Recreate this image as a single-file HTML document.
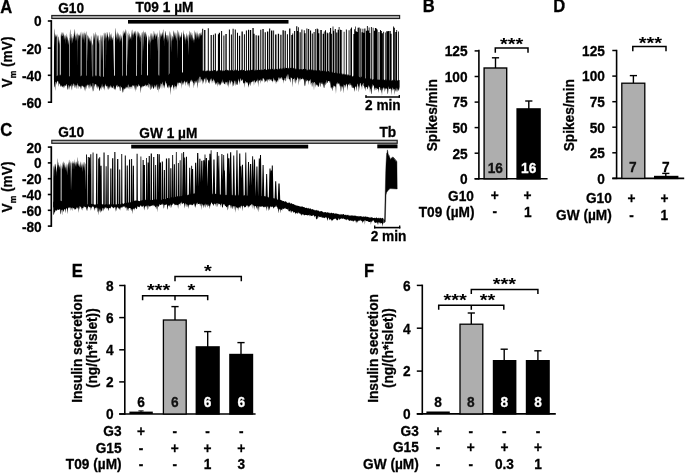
<!DOCTYPE html>
<html><head><meta charset="utf-8"><title>Figure</title>
<style>html,body{margin:0;padding:0;background:#fff;overflow:hidden}svg{display:block;filter:grayscale(1)}text{font-family:"Liberation Sans",sans-serif;font-weight:bold;stroke-width:0.3px;paint-order:stroke}</style>
</head><body>
<svg width="685" height="473" viewBox="0 0 685 473">
<rect width="685" height="473" fill="#fff"/>
<text transform="translate(0.2,12.6) scale(0.917,1)" font-size="18.09" text-anchor="start" fill="#000" stroke="#000">A</text>
<text transform="translate(58.2,12.5) scale(0.917,1)" font-size="14.93" text-anchor="start" fill="#000" stroke="#000">G10</text>
<text transform="translate(135.4,12.2) scale(0.917,1)" font-size="14.93" text-anchor="start" fill="#000" stroke="#000">T09 1 µM</text>
<rect x="51.8" y="15.5" width="347.8" height="3" fill="#b4b4b4" stroke="#222" stroke-width="1.2"/>
<rect x="128" y="20" width="160.5" height="3.6" fill="#000"/>
<line x1="51.3" y1="20.1" x2="51.3" y2="103" stroke="#000" stroke-width="1.7"/>
<line x1="47.8" y1="21" x2="51.3" y2="21" stroke="#000" stroke-width="1.6"/>
<text transform="translate(41.7,26.4) scale(0.917,1)" font-size="14.93" text-anchor="end" fill="#000" stroke="#000">0</text>
<line x1="47.8" y1="48.1" x2="51.3" y2="48.1" stroke="#000" stroke-width="1.6"/>
<text transform="translate(41.7,53.5) scale(0.917,1)" font-size="14.93" text-anchor="end" fill="#000" stroke="#000">-20</text>
<line x1="47.8" y1="75.3" x2="51.3" y2="75.3" stroke="#000" stroke-width="1.6"/>
<text transform="translate(41.7,80.7) scale(0.917,1)" font-size="14.93" text-anchor="end" fill="#000" stroke="#000">-40</text>
<line x1="47.8" y1="102.2" x2="51.3" y2="102.2" stroke="#000" stroke-width="1.6"/>
<text transform="translate(41.7,107.6) scale(0.917,1)" font-size="14.93" text-anchor="end" fill="#000" stroke="#000">-60</text>
<path d="M54 75 L54.4 74.3 L54.8 75.2 L55.2 75.3 L55.6 74.4 L56 76 L56.4 76.1 L56.8 76.2 L57.2 75 L57.6 75.7 L58 76 L58.4 75.8 L58.8 76 L59.2 74.7 L59.6 74.5 L60 76.3 L60.4 74.5 L60.8 74.7 L61.2 75.2 L61.6 75.6 L62 75.9 L62.4 75.5 L62.8 75.7 L63.2 75.8 L63.6 75.8 L64 75.1 L64.4 75.3 L64.8 75.1 L65.2 75.9 L65.6 76.2 L66 76.3 L66.4 74.9 L66.8 75.8 L67.2 75.1 L67.6 76.4 L68 76.5 L68.4 76.2 L68.8 75.3 L69.2 76.4 L69.6 76.4 L70 75.7 L70.4 75.3 L70.8 75 L71.2 76.2 L71.6 76.3 L72 75.5 L72.4 74.8 L72.8 75.7 L73.2 75.4 L73.6 75.8 L74 75.9 L74.4 75.9 L74.8 76.1 L75.2 74.9 L75.6 76.5 L76 76.3 L76.4 75.9 L76.8 76.3 L77.2 76.4 L77.6 76.4 L78 75.8 L78.4 74.9 L78.8 75.3 L79.2 75.6 L79.6 76.7 L80 76.2 L80.4 76.6 L80.8 75.9 L81.2 76 L81.6 75.5 L82 75.3 L82.4 75.2 L82.8 75.8 L83.2 76.5 L83.6 76.4 L84 75.4 L84.4 75.3 L84.8 76.7 L85.2 75.1 L85.6 75.7 L86 75.4 L86.4 76 L86.8 75.2 L87.2 76.5 L87.6 76.5 L88 75.3 L88.4 75.4 L88.8 76.8 L89.2 76.2 L89.6 75.7 L90 75.8 L90.4 75.2 L90.8 76.1 L91.2 75.3 L91.6 75.5 L92 76.6 L92.4 75.5 L92.8 76.9 L93.2 77 L93.6 76.1 L94 76.2 L94.4 76.4 L94.8 76.7 L95.2 75.3 L95.6 75.5 L96 76.6 L96.4 76.1 L96.8 75.3 L97.2 76 L97.6 76.7 L98 76.3 L98.4 76.8 L98.8 76 L99.2 76.2 L99.6 76.1 L100 75.5 L100.4 76.7 L100.8 77.1 L101.2 75.5 L101.6 75.3 L102 75.7 L102.4 77 L102.8 75.8 L103.2 76.6 L103.6 77 L104 76.7 L104.4 76 L104.8 76.7 L105.2 76.9 L105.6 75.8 L106 75.4 L106.4 75.3 L106.8 77 L107.2 76.7 L107.6 75.3 L108 75.5 L108.4 76.4 L108.8 76.3 L109.2 76.2 L109.6 75.8 L110 76.3 L110.4 75.8 L110.8 76.8 L111.2 76.1 L111.6 76.6 L112 75.7 L112.4 76.3 L112.8 75.9 L113.2 75.7 L113.6 76.4 L114 75.7 L114.4 75.8 L114.8 75.5 L115.2 76.1 L115.6 76.5 L116 75.7 L116.4 76.6 L116.8 76.2 L117.2 76.5 L117.6 76.1 L118 75.9 L118.4 76.2 L118.8 76.9 L119.2 75.9 L119.6 76 L120 76.8 L120.4 76.3 L120.8 75.9 L121.2 75.3 L121.6 75.5 L122 75.2 L122.4 75.4 L122.8 76.5 L123.2 75.4 L123.6 76.6 L124 76.1 L124.4 76.6 L124.8 75.6 L125.2 75.2 L125.6 75 L126 75.5 L126.4 75.5 L126.8 75.7 L127.2 76.4 L127.6 76.7 L128 74.9 L128.4 76.5 L128.8 75.8 L129.2 75.4 L129.6 75.5 L130 75.4 L130.4 76.2 L130.8 75.7 L131.2 75.8 L131.6 76.3 L132 76.7 L132.4 76.1 L132.8 75.5 L133.2 75.2 L133.6 74.9 L134 76.1 L134.4 75.6 L134.8 75.3 L135.2 74.9 L135.6 75.5 L136 76 L136.4 76.1 L136.8 75.5 L137.2 76.4 L137.6 75.9 L138 75.1 L138.4 75.2 L138.8 76.4 L139.2 75.3 L139.6 74.8 L140 76.3 L140.4 75.4 L140.8 75.4 L141.2 75.1 L141.6 74.8 L142 75 L142.4 76 L142.8 74.7 L143.2 75.7 L143.6 76.5 L144 74.9 L144.4 75.6 L144.8 76.2 L145.2 74.7 L145.6 76.3 L146 75.1 L146.4 75.2 L146.8 75.3 L147.2 75.9 L147.6 74.7 L148 75.5 L148.4 75.3 L148.8 74.7 L149.2 74.8 L149.6 74.9 L150 75.8 L150.4 75.1 L150.8 76.1 L151.2 75.3 L151.6 74.8 L152 76.3 L152.4 75.9 L152.8 75.8 L153.2 75.6 L153.6 74.7 L154 75.6 L154.4 75.7 L154.8 75.9 L155.2 75.7 L155.6 75.2 L156 75.4 L156.4 75.5 L156.8 75.6 L157.2 75.9 L157.6 75.5 L158 74.6 L158.4 76.1 L158.8 74.4 L159.2 74.9 L159.6 76.2 L160 75.8 L160.4 76.1 L160.8 75 L161.2 74.2 L161.6 75 L162 75 L162.4 75.2 L162.8 74.5 L163.2 74.8 L163.6 74.4 L164 75.1 L164.4 74.6 L164.8 75.1 L165.2 74 L165.6 74.8 L166 73.9 L166.4 74.2 L166.8 74.1 L167.2 73.7 L167.6 74.1 L168 74.2 L168.4 74.9 L168.8 75.2 L169.2 73.4 L169.6 73.6 L170 73.9 L170.4 73.6 L170.8 73.7 L171.2 73.8 L171.6 74.5 L172 73.9 L172.4 73.6 L172.8 73.8 L173.2 73 L173.6 72.9 L174 72.8 L174.4 74.1 L174.8 72.8 L175.2 73.1 L175.6 74.3 L176 73.7 L176.4 72.9 L176.8 73.4 L177.2 72.8 L177.6 73.1 L178 73.8 L178.4 73.4 L178.8 72.9 L179.2 73.4 L179.6 73.1 L180 73.6 L180.4 73.4 L180.8 73.1 L181.2 72.5 L181.6 71.9 L182 73 L182.4 72.8 L182.8 71.7 L183.2 72.8 L183.6 72.1 L184 73.3 L184.4 71.7 L184.8 72.9 L185.2 71.8 L185.6 73.1 L186 72.1 L186.4 72.8 L186.8 72.8 L187.2 71.7 L187.6 72.1 L188 72.8 L188.4 71.9 L188.8 72.5 L189.2 72.3 L189.6 72.2 L190 71.3 L190.4 71.3 L190.8 72.1 L191.2 71.9 L191.6 72.3 L192 71.9 L192.4 71.6 L192.8 70.9 L193.2 70.6 L193.6 72.2 L194 71.2 L194.4 70.9 L194.8 71.8 L195.2 71 L195.6 70.7 L196 70.6 L196.4 71.7 L196.8 71.2 L197.2 70.8 L197.6 70.5 L198 70.7 L198.4 71.5 L198.8 71.3 L199.2 70.4 L199.6 70.3 L200 70 L200.4 70 L200.8 70 L201.2 71.6 L201.6 71.4 L202 70.4 L202.4 71.1 L202.8 70.5 L203.2 71.2 L203.6 70.3 L204 70.5 L204.4 71.1 L204.8 70.6 L205.2 71.1 L205.6 71.6 L206 70.8 L206.4 70.3 L206.8 71.6 L207.2 70.2 L207.6 70.5 L208 71.1 L208.4 70.1 L208.8 70.9 L209.2 71.6 L209.6 70 L210 71.2 L210.4 70.9 L210.8 71.1 L211.2 69.8 L211.6 71.3 L212 69.9 L212.4 71.3 L212.8 70.7 L213.2 70.1 L213.6 71.4 L214 70.5 L214.4 69.9 L214.8 70 L215.2 70.1 L215.6 69.9 L216 71.2 L216.4 71.4 L216.8 70.3 L217.2 71.3 L217.6 70.6 L218 69.8 L218.4 70.3 L218.8 70.2 L219.2 69.9 L219.6 70.2 L220 70.7 L220.4 70.4 L220.8 69.7 L221.2 70.7 L221.6 70.8 L222 70.8 L222.4 70 L222.8 71.4 L223.2 70.2 L223.6 70.7 L224 70.9 L224.4 71 L224.8 70.3 L225.2 70.1 L225.6 70.1 L226 69.8 L226.4 69.6 L226.8 70.7 L227.2 69.6 L227.6 70.2 L228 70.2 L228.4 70.1 L228.8 70.8 L229.2 71.4 L229.6 71.2 L230 70.2 L230.4 70.5 L230.8 70 L231.2 70.8 L231.6 70.6 L232 69.5 L232.4 70.2 L232.8 70.1 L233.2 70.9 L233.6 71.1 L234 71.2 L234.4 70 L234.8 69.7 L235.2 69.5 L235.6 69.7 L236 71.3 L236.4 69.5 L236.8 70 L237.2 69.6 L237.6 70.7 L238 70.9 L238.4 70.3 L238.8 71 L239.2 71.1 L239.6 70.8 L240 70.5 L240.4 69.9 L240.8 70.2 L241.2 69.8 L241.6 69.5 L242 70.5 L242.4 70.2 L242.8 70.8 L243.2 69.9 L243.6 70.1 L244 69.8 L244.4 70.9 L244.8 70.9 L245.2 71.1 L245.6 70.4 L246 71.2 L246.4 70 L246.8 70.9 L247.2 70.5 L247.6 70 L248 70.8 L248.4 70.3 L248.8 70.1 L249.2 70.9 L249.6 69.8 L250 70.2 L250.4 69.5 L250.8 70.6 L251.2 69.8 L251.6 70.2 L252 69.6 L252.4 69.9 L252.8 69.6 L253.2 71 L253.6 70.8 L254 69.4 L254.4 70.8 L254.8 70.6 L255.2 70.7 L255.6 69.3 L256 69.9 L256.4 70.4 L256.8 70.1 L257.2 69.8 L257.6 70 L258 70.2 L258.4 70.6 L258.8 69.4 L259.2 69.9 L259.6 70.1 L260 69.2 L260.4 70.3 L260.8 70.1 L261.2 69.3 L261.6 70.6 L262 69 L262.4 70 L262.8 69.9 L263.2 70.1 L263.6 70.1 L264 69.7 L264.4 68.9 L264.8 69.1 L265.2 69.2 L265.6 69.3 L266 69.4 L266.4 69.9 L266.8 69.7 L267.2 68.9 L267.6 68.9 L268 70.1 L268.4 68.5 L268.8 69.4 L269.2 69.6 L269.6 68.4 L270 68.5 L270.4 69.7 L270.8 68.9 L271.2 68.7 L271.6 70 L272 69.5 L272.4 68.4 L272.8 69 L273.2 69.7 L273.6 69.8 L274 69.4 L274.4 69.8 L274.8 68.6 L275.2 69.3 L275.6 68.8 L276 69.1 L276.4 68.9 L276.8 68.9 L277.2 68.4 L277.6 69.8 L278 69.2 L278.4 68.3 L278.8 67.9 L279.2 68.3 L279.6 69.2 L280 69 L280.4 68 L280.8 68.5 L281.2 69.4 L281.6 68.5 L282 68.3 L282.4 67.7 L282.8 69.4 L283.2 68.3 L283.6 68.1 L284 67.6 L284.4 67.6 L284.8 69.3 L285.2 67.8 L285.6 67.9 L286 67.7 L286.4 68 L286.8 68 L287.2 68.4 L287.6 67.9 L288 68.9 L288.4 68.1 L288.8 67.8 L289.2 67.4 L289.6 69.2 L290 68.3 L290.4 67.8 L290.8 68.1 L291.2 67.5 L291.6 68.1 L292 68.3 L292.4 68 L292.8 69 L293.2 68.4 L293.6 67.8 L294 67.9 L294.4 68.5 L294.8 68.8 L295.2 69.6 L295.6 68 L296 69 L296.4 69.4 L296.8 68.4 L297.2 69.2 L297.6 68 L298 69.2 L298.4 68.8 L298.8 68.6 L299.2 68.9 L299.6 69.7 L300 69.1 L300.4 69.3 L300.8 69.1 L301.2 69.1 L301.6 69.4 L302 69 L302.4 69.9 L302.8 69.1 L303.2 69.1 L303.6 69 L304 68.8 L304.4 68.6 L304.8 69.4 L305.2 68.9 L305.6 68.8 L306 69.4 L306.4 69.1 L306.8 70.6 L307.2 70.3 L307.6 70.3 L308 69 L308.4 69.5 L308.8 70.8 L309.2 69 L309.6 69.7 L310 69.7 L310.4 69.4 L310.8 69.4 L311.2 69.2 L311.6 70.5 L312 69.3 L312.4 70 L312.8 69.5 L313.2 70.1 L313.6 70.8 L314 69.5 L314.4 70 L314.8 70.7 L315.2 70.2 L315.6 70.1 L316 70.7 L316.4 70.8 L316.8 70.1 L317.2 70.3 L317.6 71.2 L318 70.4 L318.4 70.2 L318.8 70.5 L319.2 70.2 L319.6 69.9 L320 70.8 L320.4 71.7 L320.8 70.6 L321.2 70.5 L321.6 70.8 L322 71.4 L322.4 70.2 L322.8 70.9 L323.2 71.1 L323.6 71.9 L324 70.4 L324.4 70.7 L324.8 71.3 L325.2 72.2 L325.6 70.8 L326 71.7 L326.4 72 L326.8 70.6 L327.2 71.9 L327.6 70.9 L328 71 L328.4 71.3 L328.8 70.8 L329.2 71.7 L329.6 72 L330 72.7 L330.4 71.5 L330.8 71.8 L331.2 72.3 L331.6 72.2 L332 71.8 L332.4 71.8 L332.8 72.9 L333.2 72.2 L333.6 72.1 L334 73 L334.4 73 L334.8 72.8 L335.2 72.4 L335.6 72.2 L336 73.7 L336.4 72.6 L336.8 72.8 L337.2 73.1 L337.6 73.5 L338 73.8 L338.4 72.7 L338.8 72.5 L339.2 73.2 L339.6 73.9 L340 73.1 L340.4 73.5 L340.8 73.4 L341.2 72.9 L341.6 73.4 L342 74.5 L342.4 73.3 L342.8 74.7 L343.2 74.6 L343.6 73.5 L344 73.7 L344.4 75 L344.8 73.8 L345.2 73.9 L345.6 75.1 L346 73.9 L346.4 74.7 L346.8 75.3 L347.2 73.8 L347.6 75.3 L348 75.5 L348.4 75.1 L348.8 74.1 L349.2 75.6 L349.6 75.2 L350 76.1 L350.4 75.3 L350.8 75.1 L351.2 75.5 L351.6 74.7 L352 76.2 L352.4 76.5 L352.8 76.3 L353.2 76.4 L353.6 75.3 L354 76 L354.4 75.7 L354.8 77 L355.2 76.2 L355.6 76.5 L356 76.9 L356.4 76.4 L356.8 75.8 L357.2 76 L357.6 75.8 L358 76.2 L358.4 76.3 L358.8 76.3 L359.2 76.9 L359.6 77.1 L360 77.6 L360.4 77.9 L360.8 76.6 L361.2 76.8 L361.6 76.4 L362 77.3 L362.4 77.2 L362.8 76.7 L363.2 77.4 L363.6 77.5 L364 77.3 L364.4 78.7 L364.8 77.9 L365.2 78.6 L365.6 78.5 L366 77.9 L366.4 78.1 L366.8 78.9 L367.2 78.9 L367.6 78.9 L368 79 L368.4 79.1 L368.8 79.3 L369.2 78.4 L369.6 78.6 L370 78.4 L370.4 79.5 L370.8 78.1 L371.2 78.4 L371.6 79.5 L372 78.7 L372.4 79.6 L372.8 79.9 L373.2 79.2 L373.6 78.8 L374 79.4 L374.4 78.2 L374.8 79.2 L375.2 79.4 L375.6 78.3 L376 78.7 L376.4 79.8 L376.8 78.8 L377.2 80.2 L377.6 79.3 L378 79.2 L378.4 80.3 L378.8 79.3 L379.2 79.8 L379.6 80.1 L380 79.1 L380.4 79 L380.8 78.8 L381.2 79.2 L381.6 79.1 L382 80.5 L382.4 79.4 L382.8 79.7 L383.2 79 L383.6 79.2 L384 80.6 L384.4 79.4 L384.8 80.1 L385.2 80.6 L385.6 79.2 L386 78.9 L386.4 79.8 L386.8 80.8 L387.2 79.5 L387.6 80.6 L388 79.2 L388.4 80.8 L388.8 79.4 L389.2 80.6 L389.6 79.2 L390 80.9 L390.4 80.8 L390.8 79.9 L391.2 79.9 L391.6 81.1 L392 80.9 L392.4 79.4 L392.8 80.4 L393.2 79.4 L393.6 81.2 L394 79.5 L394.4 79.8 L394.8 80.1 L395.2 79.6 L395.6 80.9 L396 81 L396.4 81.3 L396.8 79.6 L397.2 80.9 L397.6 80.1 L398 80.3 L398.4 80.3 L398.8 80.3 L399.2 79.9 L399.6 80.3 L399.6 87 L399.2 88.9 L398.8 90.8 L398.4 90.4 L398 88.5 L397.6 92.6 L397.2 88.1 L396.8 92.3 L396.4 89.1 L396 87.5 L395.6 91.8 L395.2 89.8 L394.8 94.9 L394.4 89.2 L394 88.7 L393.6 88.8 L393.2 90.2 L392.8 90.4 L392.4 87.2 L392 88.8 L391.6 90.2 L391.2 95.3 L390.8 88.3 L390.4 88.7 L390 89 L389.6 89 L389.2 89 L388.8 86.2 L388.4 89.2 L388 93.6 L387.6 94.1 L387.2 89.2 L386.8 89 L386.4 88.3 L386 88.2 L385.6 88.4 L385.2 89.7 L384.8 92.1 L384.4 87.4 L384 89.2 L383.6 87.4 L383.2 87.4 L382.8 90.7 L382.4 87.4 L382 96.3 L381.6 87.6 L381.2 93.5 L380.8 89.7 L380.4 90.2 L380 87.1 L379.6 87 L379.2 87.5 L378.8 93 L378.4 90 L378 89.1 L377.6 88.5 L377.2 89 L376.8 90.2 L376.4 87.9 L376 87.8 L375.6 87.7 L375.2 90.5 L374.8 88.1 L374.4 91.2 L374 86.4 L373.6 84.7 L373.2 86.2 L372.8 83.8 L372.4 88.3 L372 85.5 L371.6 93.4 L371.2 94.2 L370.8 88.9 L370.4 88.5 L370 93.3 L369.6 86.1 L369.2 87.8 L368.8 86.4 L368.4 84.9 L368 88.7 L367.6 89.5 L367.2 87.6 L366.8 87.2 L366.4 86.9 L366 87 L365.6 91.4 L365.2 86.5 L364.8 89 L364.4 87.4 L364 86.1 L363.6 86.2 L363.2 81.6 L362.8 85.4 L362.4 83.5 L362 89.9 L361.6 85 L361.2 87 L360.8 84.6 L360.4 83.1 L360 83.1 L359.6 86.2 L359.2 88.6 L358.8 92.6 L358.4 85.2 L358 87.4 L357.6 84.2 L357.2 83.5 L356.8 87.2 L356.4 91.5 L356 86.4 L355.6 87.3 L355.2 85.9 L354.8 89.8 L354.4 92 L354 87.6 L353.6 88.5 L353.2 87.2 L352.8 88.3 L352.4 87.4 L352 85.1 L351.6 88 L351.2 84.6 L350.8 85.6 L350.4 84.8 L350 82.7 L349.6 84.2 L349.2 86 L348.8 84.1 L348.4 84.8 L348 84.8 L347.6 91 L347.2 86.6 L346.8 85 L346.4 83.8 L346 84 L345.6 88.1 L345.2 85.5 L344.8 84.7 L344.4 85.4 L344 88.6 L343.6 93.6 L343.2 83.6 L342.8 89 L342.4 85.9 L342 87.2 L341.6 85.5 L341.2 90.5 L340.8 91.9 L340.4 86.8 L340 85.3 L339.6 82.9 L339.2 87 L338.8 83.3 L338.4 83.9 L338 82.9 L337.6 84.8 L337.2 81.9 L336.8 83.5 L336.4 84.5 L336 94.1 L335.6 87.5 L335.2 86.2 L334.8 86.4 L334.4 86.2 L334 85.6 L333.6 85.7 L333.2 88 L332.8 87 L332.4 91.4 L332 89 L331.6 88.3 L331.2 87 L330.8 87.9 L330.4 84.2 L330 81 L329.6 81.3 L329.2 83.3 L328.8 81.1 L328.4 81.1 L328 80.9 L327.6 83.1 L327.2 82.6 L326.8 84.2 L326.4 79.5 L326 84.2 L325.6 85.6 L325.2 82 L324.8 84 L324.4 87.7 L324 88.1 L323.6 83.2 L323.2 88.4 L322.8 83.5 L322.4 84.8 L322 81.7 L321.6 83.8 L321.2 84 L320.8 82.3 L320.4 86.7 L320 86.5 L319.6 83 L319.2 82.3 L318.8 87.2 L318.4 86.2 L318 87.1 L317.6 84.6 L317.2 85.7 L316.8 84.4 L316.4 85.7 L316 83.4 L315.6 87.8 L315.2 83.2 L314.8 82 L314.4 82 L314 90.8 L313.6 83.4 L313.2 82.4 L312.8 81.8 L312.4 85.6 L312 87.2 L311.6 83.1 L311.2 82.4 L310.8 85.1 L310.4 78.6 L310 80.7 L309.6 81 L309.2 79.7 L308.8 85.3 L308.4 80.6 L308 81.4 L307.6 80.2 L307.2 80.1 L306.8 81.2 L306.4 81.4 L306 78.9 L305.6 82.6 L305.2 85.8 L304.8 86.2 L304.4 84.4 L304 79.1 L303.6 78.8 L303.2 80.7 L302.8 77.6 L302.4 79.3 L302 78.7 L301.6 79.6 L301.2 78.9 L300.8 79.8 L300.4 77.5 L300 81.9 L299.6 78 L299.2 79.7 L298.8 85.8 L298.4 78.2 L298 79 L297.6 77 L297.2 78 L296.8 80.6 L296.4 79.2 L296 83.2 L295.6 78.5 L295.2 84 L294.8 81.8 L294.4 77.6 L294 78.9 L293.6 78.9 L293.2 78.7 L292.8 87.5 L292.4 80.5 L292 78 L291.6 77.4 L291.2 78.5 L290.8 77 L290.4 82.7 L290 81.2 L289.6 78.7 L289.2 79.6 L288.8 78.9 L288.4 75.9 L288 73.8 L287.6 75.5 L287.2 79.4 L286.8 77.1 L286.4 75.2 L286 81.3 L285.6 80.9 L285.2 78.1 L284.8 77.9 L284.4 79.9 L284 80.5 L283.6 79.8 L283.2 83.7 L282.8 77.4 L282.4 80.3 L282 79.4 L281.6 77.7 L281.2 76.8 L280.8 79.5 L280.4 78.1 L280 77.6 L279.6 80 L279.2 77.5 L278.8 77.3 L278.4 78.7 L278 82.5 L277.6 80.7 L277.2 80 L276.8 82.1 L276.4 81.6 L276 84.2 L275.6 80.7 L275.2 80.6 L274.8 79.2 L274.4 80.5 L274 82 L273.6 77.5 L273.2 79.3 L272.8 82.8 L272.4 80.9 L272 80.9 L271.6 78.7 L271.2 81.3 L270.8 80.2 L270.4 79.4 L270 79.1 L269.6 78.8 L269.2 81.6 L268.8 78.8 L268.4 80.8 L268 79.1 L267.6 79.7 L267.2 83.1 L266.8 78.9 L266.4 81.4 L266 80.5 L265.6 81.2 L265.2 81.7 L264.8 82.7 L264.4 79.6 L264 79.4 L263.6 78.7 L263.2 78 L262.8 78.2 L262.4 81.8 L262 80.3 L261.6 81.6 L261.2 79.2 L260.8 84 L260.4 79.3 L260 79.9 L259.6 80.3 L259.2 80.9 L258.8 80.5 L258.4 87.4 L258 78.1 L257.6 83.7 L257.2 79.4 L256.8 80.7 L256.4 81.3 L256 81.7 L255.6 81.9 L255.2 83.6 L254.8 80.8 L254.4 79.8 L254 86 L253.6 80.3 L253.2 81.8 L252.8 82.1 L252.4 80.6 L252 82.4 L251.6 81.8 L251.2 82.2 L250.8 86.4 L250.4 83.4 L250 81.8 L249.6 83.5 L249.2 84.4 L248.8 85.5 L248.4 87.7 L248 84.3 L247.6 82.8 L247.2 82.2 L246.8 82.7 L246.4 81.7 L246 83.7 L245.6 80.8 L245.2 81.7 L244.8 88.1 L244.4 82.4 L244 83.6 L243.6 82.4 L243.2 83.9 L242.8 80.5 L242.4 79.6 L242 79.5 L241.6 80.7 L241.2 81.2 L240.8 78.4 L240.4 78.5 L240 83 L239.6 80.4 L239.2 85.1 L238.8 78.5 L238.4 80.3 L238 81.8 L237.6 84.2 L237.2 84.9 L236.8 84.4 L236.4 84.6 L236 80.3 L235.6 82.5 L235.2 86.2 L234.8 80.6 L234.4 81.1 L234 85.8 L233.6 85.7 L233.2 82.4 L232.8 87.2 L232.4 81.9 L232 81.5 L231.6 80.2 L231.2 82.3 L230.8 82.6 L230.4 85.1 L230 79.7 L229.6 80.7 L229.2 83 L228.8 88 L228.4 81.6 L228 85.9 L227.6 84.7 L227.2 81.2 L226.8 82.7 L226.4 81.8 L226 85.2 L225.6 82.8 L225.2 81.4 L224.8 83.9 L224.4 84.2 L224 83.8 L223.6 81.2 L223.2 83.7 L222.8 78.9 L222.4 83.4 L222 81.9 L221.6 84.2 L221.2 80.9 L220.8 84.2 L220.4 85.5 L220 84 L219.6 86 L219.2 83.1 L218.8 84.9 L218.4 83.4 L218 81.4 L217.6 82.4 L217.2 87 L216.8 82.4 L216.4 83.3 L216 85.1 L215.6 84.2 L215.2 83.1 L214.8 79.9 L214.4 81.7 L214 83.4 L213.6 78.6 L213.2 80.1 L212.8 80.7 L212.4 80.9 L212 83.8 L211.6 80 L211.2 78.1 L210.8 81.8 L210.4 78.5 L210 80 L209.6 81.9 L209.2 83.9 L208.8 82.2 L208.4 83 L208 80.3 L207.6 80.3 L207.2 78.8 L206.8 83.2 L206.4 78.9 L206 77.3 L205.6 79.6 L205.2 84.6 L204.8 78.3 L204.4 79.7 L204 78.2 L203.6 83.8 L203.2 80.7 L202.8 84.8 L202.4 79.2 L202 81.8 L201.6 79.3 L201.2 79.1 L200.8 82.9 L200.4 77.6 L200 76 L199.6 76.8 L199.2 82.7 L198.8 82.7 L198.4 77.6 L198 84.7 L197.6 88.7 L197.2 79.3 L196.8 81.5 L196.4 83.2 L196 79.9 L195.6 83.8 L195.2 81.5 L194.8 80.7 L194.4 86.1 L194 82.9 L193.6 82.5 L193.2 88.8 L192.8 80.3 L192.4 81.4 L192 82.2 L191.6 80.7 L191.2 79.6 L190.8 80.6 L190.4 81.6 L190 82.5 L189.6 88.6 L189.2 82.7 L188.8 82.9 L188.4 84.5 L188 87.1 L187.6 80.2 L187.2 85.2 L186.8 81.8 L186.4 81.4 L186 83 L185.6 81.5 L185.2 86.2 L184.8 81.9 L184.4 80.4 L184 81.9 L183.6 85.1 L183.2 82.1 L182.8 83.2 L182.4 85.4 L182 80.9 L181.6 89 L181.2 80.2 L180.8 83.8 L180.4 83.2 L180 82.5 L179.6 82.4 L179.2 83.3 L178.8 82.6 L178.4 83.2 L178 86.5 L177.6 82.1 L177.2 83.7 L176.8 86.3 L176.4 87.1 L176 90.1 L175.6 85.8 L175.2 86.6 L174.8 87.3 L174.4 84.2 L174 91.5 L173.6 86.3 L173.2 89.2 L172.8 84.4 L172.4 85.4 L172 84.9 L171.6 88 L171.2 86.6 L170.8 87.5 L170.4 95.2 L170 87.3 L169.6 84.7 L169.2 88.5 L168.8 84.5 L168.4 89.1 L168 86.1 L167.6 88.3 L167.2 87.1 L166.8 85 L166.4 82.9 L166 83.8 L165.6 80.5 L165.2 82.9 L164.8 89 L164.4 84.6 L164 88.5 L163.6 85.4 L163.2 85.3 L162.8 81.5 L162.4 84.2 L162 89.2 L161.6 84.3 L161.2 83.7 L160.8 83.2 L160.4 88.6 L160 85.1 L159.6 89.5 L159.2 88.9 L158.8 86 L158.4 93 L158 83.2 L157.6 90.2 L157.2 89.7 L156.8 84.2 L156.4 85.2 L156 89.3 L155.6 85.3 L155.2 87.4 L154.8 84.5 L154.4 86.9 L154 88.1 L153.6 88.9 L153.2 88.6 L152.8 86.1 L152.4 88.1 L152 83.9 L151.6 89.1 L151.2 88.6 L150.8 84.3 L150.4 89.9 L150 89.6 L149.6 84.8 L149.2 84.1 L148.8 82.9 L148.4 87.6 L148 87.6 L147.6 84.7 L147.2 84.9 L146.8 85.9 L146.4 85 L146 87.6 L145.6 84.3 L145.2 85.3 L144.8 86.2 L144.4 85.3 L144 86.4 L143.6 86.3 L143.2 86.4 L142.8 85.6 L142.4 87.7 L142 85.9 L141.6 87.6 L141.2 87.4 L140.8 93.6 L140.4 88.2 L140 86.2 L139.6 86.1 L139.2 85.2 L138.8 86.7 L138.4 83.8 L138 85.6 L137.6 87.4 L137.2 86.3 L136.8 85.1 L136.4 87.7 L136 90.5 L135.6 84.7 L135.2 92.3 L134.8 84.8 L134.4 90 L134 84.7 L133.6 86.5 L133.2 85.4 L132.8 85.7 L132.4 84.9 L132 89.3 L131.6 86.5 L131.2 86.7 L130.8 86.8 L130.4 86.8 L130 89.7 L129.6 86.7 L129.2 86.4 L128.8 89.3 L128.4 84.9 L128 84.2 L127.6 88.7 L127.2 86.9 L126.8 87.1 L126.4 88.8 L126 86.3 L125.6 88.5 L125.2 88.6 L124.8 89.1 L124.4 88.3 L124 90.7 L123.6 87.8 L123.2 92.1 L122.8 92.7 L122.4 91 L122 88.2 L121.6 86.9 L121.2 87.4 L120.8 85.4 L120.4 90.7 L120 91.3 L119.6 87.7 L119.2 86.4 L118.8 86.3 L118.4 86.4 L118 86.8 L117.6 87.7 L117.2 84.7 L116.8 85 L116.4 86.6 L116 86.3 L115.6 90.4 L115.2 88.4 L114.8 88.8 L114.4 89.9 L114 86.6 L113.6 85.4 L113.2 88.9 L112.8 87.5 L112.4 87.6 L112 88.4 L111.6 87.2 L111.2 86.4 L110.8 85.1 L110.4 87.9 L110 85.8 L109.6 89.2 L109.2 86.3 L108.8 90.4 L108.4 86.1 L108 89.8 L107.6 87.8 L107.2 85.5 L106.8 86.7 L106.4 86.2 L106 85.4 L105.6 85.7 L105.2 83.5 L104.8 86.3 L104.4 90.7 L104 87 L103.6 85.9 L103.2 89 L102.8 87.5 L102.4 86.5 L102 83.3 L101.6 90.4 L101.2 85.4 L100.8 89 L100.4 87 L100 89.9 L99.6 91.3 L99.2 89.5 L98.8 87.8 L98.4 86.6 L98 86.3 L97.6 89.6 L97.2 85.1 L96.8 87.9 L96.4 85.5 L96 84 L95.6 84.3 L95.2 84.2 L94.8 87.1 L94.4 83.6 L94 90.3 L93.6 91.4 L93.2 83.2 L92.8 82.9 L92.4 92 L92 87.9 L91.6 85.5 L91.2 87.1 L90.8 83.3 L90.4 88.5 L90 85 L89.6 89.4 L89.2 83.8 L88.8 89.1 L88.4 84.4 L88 85.2 L87.6 84.2 L87.2 86.1 L86.8 85.3 L86.4 89.4 L86 84.7 L85.6 91.7 L85.2 86.5 L84.8 87.1 L84.4 91.1 L84 86.3 L83.6 86.5 L83.2 87.8 L82.8 86.1 L82.4 85.5 L82 86.8 L81.6 85.2 L81.2 89.5 L80.8 85.7 L80.4 89.7 L80 85.9 L79.6 86.9 L79.2 86.3 L78.8 85.2 L78.4 86.3 L78 89.7 L77.6 82.7 L77.2 84.9 L76.8 85.3 L76.4 89.4 L76 84.3 L75.6 88.3 L75.2 84.5 L74.8 88.5 L74.4 85.6 L74 83.8 L73.6 83.6 L73.2 86.1 L72.8 86.5 L72.4 84.3 L72 90.6 L71.6 88.5 L71.2 83.7 L70.8 85.8 L70.4 86.8 L70 85.4 L69.6 89.9 L69.2 85.5 L68.8 90.1 L68.4 84.9 L68 85.6 L67.6 90 L67.2 88.9 L66.8 83.9 L66.4 84.3 L66 86.4 L65.6 85.3 L65.2 85.7 L64.8 85 L64.4 88.1 L64 85.6 L63.6 88.6 L63.2 85.8 L62.8 86.8 L62.4 87.6 L62 85.5 L61.6 85.5 L61.2 86.7 L60.8 86.8 L60.4 86.1 L60 84.3 L59.6 83.4 L59.2 83.6 L58.8 86.9 L58.4 83.1 L58 80.8 L57.6 80.9 L57.2 81.7 L56.8 82.6 L56.4 85.1 L56 82 L55.6 81.7 L55.2 90.9 L54.8 86.7 L54.4 86.8 L54 83.1Z" fill="#000"/>
<path d="M53.9 80.3L54 36.8L54.2 28.3L54.5 30.7L54.6 46.7L54.9 32.2L55.1 35L55.5 37.7L55.8 33.5L56 35.6L56.4 37.5L56.6 34L56.9 36.2L56.8 39.2L56.8 80.4ZM57.5 80.4L57.6 42.1L57.8 33.7L58.1 36.4L58.5 43.2L58.7 36.6L59 37.5L59.1 45.8L59.4 39.1L59.6 40.9L59.8 43.9L59.8 80.5ZM60.7 80.6L60.8 36.8L61.1 31.7L61.3 33L61.6 37.1L61.9 33.7L62.1 36.1L62.4 36.1L62.7 32.1L62.9 32.7L63.5 35.7L63.5 80.7ZM63.4 80.7L63.5 40.6L63.8 31.8L64 33.4L64.4 39.9L64.7 35.1L64.9 36.7L65.1 44L65.3 34.7L65.6 35.7L65.9 39.1L66.2 35.5L66.4 37.1L66.5 40.4L66.8 33.4L67 34L67.3 40.1L67.5 36.4L67.8 38.8L68 44.4L68.3 40L68.5 40.6L68.7 45.7L69 37.7L69.2 38.3L69.2 41.3L69.2 80.9ZM69.7 80.9L69.8 35.4L70.1 29L70.3 30.5L70.8 41.2L71 33.7L71.3 34.4L71.4 44.7L71.6 36.2L71.9 38.3L72.3 43.6L72.5 37.4L72.8 39.6L72.7 42.6L72.7 81.1ZM72.6 81.1L72.7 38.8L72.9 35.5L73.2 36.4L73.6 39.8L73.9 32.9L74.1 35.3L74.5 32L74.8 29L75 29.8L75.4 41.4L75.7 35.1L75.9 36.1L76.2 41L76.5 33.3L76.7 35.1L76.8 38.1L77 32.2L77.3 34.2L77.4 66.8L77.6 33.6L77.9 36.1L78 42.1L78.2 34.3L78.5 35.4L78.4 38.4L78.4 81.3ZM78.3 81.3L78.4 39.6L78.6 33.9L78.9 36.4L79 39L79.2 34.2L79.5 35.7L79.8 35.7L80.1 31.7L80.3 33.4L80.7 36.4L80.7 81.4ZM81.5 81.5L81.6 38.8L81.9 31.5L82.1 32.2L82.3 40.3L82.5 32.7L82.8 34.7L83.1 40.2L83.3 31.7L83.6 34.5L83.8 39.4L84 32.8L84.3 33.6L84.6 43.4L84.9 30.7L85.1 33.3L85.2 39.3L85.5 32.9L85.7 34.9L85.8 35L86.1 30.9L86.3 32.2L86.4 35.2L86.4 81.6ZM86.8 81.7L86.9 38.1L87.1 34.2L87.4 35.9L87.7 62.4L87.9 35.5L88.2 37.7L88.5 40L88.8 35.2L89 36.7L89.3 42L89.5 37.2L89.8 38.5L90.1 43.8L90.3 38.4L90.6 41L90.8 41.5L91 35.3L91.3 37.3L91.5 72.8L91.7 39.7L92 42.7L92.6 45.7L92.6 81.9ZM93.1 82L93.2 40.2L93.5 32.6L93.7 33.7L93.9 41L94.2 33.3L94.4 35.1L94.8 40.5L95.1 31.4L95.3 32.7L95.5 35.7L95.5 82ZM96.4 82.1L96.5 42.1L96.7 33.4L97 35.7L97.3 41.4L97.5 35.1L97.8 36L98.2 43.1L98.4 34.8L98.7 36.3L99 45.1L99.2 39.7L99.5 40.3L99.5 43.3L99.5 82.2ZM100.4 82.2L100.5 40.6L100.8 34.3L101 36.6L101.2 41.8L101.4 34.6L101.7 37.4L101.9 61.4L102.1 35L102.4 37.8L102.5 61.6L102.8 34.6L103 35.7L103 38.7L103 82.2ZM103.6 82.2L103.7 40.9L103.9 32.5L104.2 34.6L104.5 41.2L104.8 32.3L105 33L105.4 39.2L105.6 32.6L105.9 33.6L105.9 71.9L106.2 34.2L106.4 36.8L106.7 38.5L106.9 31.7L107.2 32.3L107.5 36.4L107.8 32.6L108 35.3L108.4 41.7L108.6 36.4L108.9 37L109.2 40L109.2 82.1ZM109.1 82.1L109.2 39L109.4 31.7L109.7 32.7L109.7 37.9L110 33.3L110.2 34.8L110.5 40.9L110.8 34.1L111 35.9L111.1 41.1L111.3 32.6L111.6 35L111.7 39.8L111.9 36.2L112.2 39.1L112.5 40.6L112.7 36.9L113 38.6L113.4 71.8L113.7 35.3L113.9 36.5L114.1 39.5L114.1 82ZM114.9 81.9L115 32.2L115.3 28.1L115.5 28.7L115.7 38.7L116 32L116.2 35L116.3 42.3L116.6 33.6L116.8 36.6L117.2 39.6L117.2 81.9ZM117.1 81.9L117.2 35L117.5 31.2L117.7 33.1L118 41.1L118.3 33.1L118.5 33.7L118.6 39.6L118.9 33.2L119.1 35.2L119.3 43.1L119.6 34.5L119.8 35.9L120.3 41.3L120.5 33.3L120.8 36.2L121 42.3L121.3 35L121.5 35.9L122 38.9L122 81.8ZM122.5 81.8L122.6 48.7L122.9 31L123.1 32.9L123.6 36.3L123.8 30.1L124.1 32.1L124.3 33.9L124.6 30.8L124.8 33.3L124.9 33.4L125.2 28.7L125.4 30L125.8 36.5L126 29.5L126.3 32.4L126.3 35.4L126.3 81.7ZM126.9 81.7L127 68.2L127.2 32.5L127.5 34.5L127.9 65.5L128.2 30.6L128.4 33.3L128.5 41L128.8 34.4L129 35.6L129.1 37.4L129.3 33.1L129.6 34.3L129.9 40.6L130.2 35.9L130.4 36.4L131 39.4L131 81.6ZM130.9 81.6L131 38.1L131.3 29.6L131.5 32.2L132 41.1L132.2 32.6L132.5 35.6L132.5 35.5L132.8 29.4L133 30.1L133.3 38.2L133.6 32.1L133.8 34.4L133.9 34.9L134.2 31.3L134.4 32.6L134.6 34.4L134.9 30.7L135.1 31.4L135.5 36.6L135.8 30.3L136 31.6L136.3 34.6L136.3 81.5ZM137 81.5L137.1 37.5L137.3 30.6L137.6 32.5L137.9 38.1L138.1 31L138.4 33.9L138.6 36.8L138.8 31.9L139.1 33.2L139.2 38L139.5 32.8L139.7 34.1L140.1 42.5L140.4 34.5L140.6 35.2L141.1 38.2L141.1 81.4ZM141.5 81.4L141.6 36.6L141.9 32.2L142.1 33.7L142.3 64.8L142.5 31.7L142.8 32.4L142.9 35.6L143.1 30L143.4 31.9L143.8 51L144 31.3L144.3 33.7L144.6 37.5L144.8 31.9L145.1 33.4L145.2 34.6L145.4 31.5L145.7 32.3L145.9 41.2L146.1 32.9L146.4 35L147 38L147 81.3ZM147.9 81.2L148 41.9L148.2 34.6L148.5 36.9L148.9 44.6L149.1 36L149.4 37.4L149.4 46.2L149.7 39.1L149.9 40.1L150.3 43.1L150.3 81.2ZM150.2 81.2L150.3 62.1L150.5 32.4L150.8 34.8L151 36.6L151.3 32.7L151.5 33.9L151.8 41.7L152.1 32.9L152.3 35.4L152.8 40.4L153 35.3L153.3 37.7L153.6 40.7L153.6 81.1ZM153.5 81.1L153.6 37.8L153.8 30.9L154.1 31.5L154.5 36.2L154.8 32.9L155 35.3L155.1 39.8L155.4 33.3L155.6 34L155.7 39.2L156 32.4L156.2 34.9L156.3 36.7L156.5 33.7L156.8 36.2L156.9 37.1L157.2 32L157.4 33.9L157.8 51.4L158 36.4L158.3 37.2L158.5 40.2L158.5 81ZM159.2 81L159.3 65.7L159.6 29.2L159.8 31.3L160.2 40L160.5 32.1L160.7 33.7L161.1 36.7L161.3 32.9L161.6 34.5L162 37L162.2 31.8L162.5 32.9L162.8 35.4L163 29L163.3 30.2L163.7 41.6L164 33.9L164.2 36.8L164.7 39.8L164.7 80.5ZM164.6 80.4L164.7 48.3L165 30.5L165.2 31.2L165.5 35.7L165.7 31L166 33.4L166.1 39.3L166.3 34.7L166.6 35.2L166.8 40.6L167 34.7L167.3 36.1L167.6 42.9L167.9 34.1L168.1 36.5L168.3 41.7L168.6 34.3L168.8 36.2L168.8 39.2L168.8 80ZM169.4 79.9L169.5 37.7L169.7 30.5L170 33L170.2 38.4L170.5 31.4L170.7 34.2L171.1 52.7L171.4 33.9L171.6 35.8L171.9 41.7L172.2 35.6L172.4 37.1L172.6 40.9L172.8 35.5L173.1 37.2L173.4 40.2L173.4 79.5ZM173.3 79.5L173.4 33.6L173.7 30.3L173.9 31.2L174.3 35.8L174.6 31.3L174.8 33.7L174.9 37.6L175.2 32.1L175.4 33.5L175.6 38.8L175.9 35L176.1 38L176.4 41L176.4 79.2ZM176.3 79.1L176.4 39.8L176.7 32.2L176.9 34.2L177.2 59.1L177.4 29.5L177.7 30.7L178 37.6L178.3 31.7L178.5 34.5L178.6 38.7L178.8 30.8L179.1 32.7L179.5 40.9L179.8 34.1L180 36.5L180.3 38.2L180.6 35.1L180.8 36.2L181.1 37.6L181.3 32L181.6 32.8L182 35.8L182 78.5ZM182.9 78.4L183 35.9L183.2 29.8L183.5 32.5L183.6 37.8L183.8 33.1L184.1 34.3L184.4 40.3L184.6 33.4L184.9 35.7L185.1 44.4L185.3 36L185.6 37.8L186 40.8L186 78.1ZM185.9 78.1L186 36.9L186.2 32.5L186.5 34.5L186.9 40.1L187.2 34.4L187.4 36.2L187.7 41.8L188 33.5L188.2 35.8L188.6 55.5L188.9 34.3L189.1 35.2L189.2 38.2L189.2 77.7ZM189.1 77.7L189.2 36.2L189.4 30.4L189.7 31.8L189.9 37.9L190.1 31.5L190.4 33.1L190.7 40L190.9 33.1L191.2 35.7L191.3 40.9L191.5 34.2L191.8 36.3L191.7 39.3L191.7 77.5ZM191.6 77.4L191.7 35.2L191.9 32L192.2 33.8L192.3 41.5L192.6 34.5L192.8 36.7L193.2 40.5L193.5 37.3L193.7 38.5L194 43.3L194.2 39L194.5 39.7L194.5 42.7L194.5 77.1ZM194.4 77.1L194.5 37.9L194.7 29.7L195 31.9L195.2 35.2L195.4 31.4L195.7 33.1L196.1 39.8L196.4 31.7L196.6 34.6L196.7 37.6L196.7 76.9ZM196.6 76.8L196.7 39L197 30.4L197.2 32.9L197.3 38.7L197.6 32.4L197.8 34.1L198.1 39.7L198.4 33.2L198.6 34.5L199 37.4L199.2 32.8L199.5 33.8L199.7 39.5L200 32.1L200.2 33.2L200.6 36.4L200.8 32.7L201.1 34.9L201.4 35.6L201.7 31.7L201.9 32.8L202 35.8L202 76.5ZM202.2 28.8h1V76.5h-1ZM204.1 29.9h1.3V76.5h-1.3ZM207.8 28.3h1V76.6h-1ZM210.6 35h1.2V76.6h-1.2ZM212.9 34.8h1V76.6h-1ZM214.8 33.5h1.1V76.6h-1.1ZM217.9 34.2h0.9V76.7h-0.9ZM218.8 32.8h1.2V76.7h-1.2ZM221.1 30.9h1V76.7h-1ZM223.4 35.6h1V76.7h-1ZM225.4 34h1.3V76.8h-1.3ZM228.9 29.5h1V76.8h-1ZM230.9 34.5h1V76.8h-1ZM232.6 28.8h1V76.8h-1ZM234.8 29.4h1V76.8h-1ZM237 32.7h1V76.9h-1ZM238.9 35.7h1.3V76.9h-1.3ZM241.5 31.4h1.3V76.9h-1.3ZM243.9 34.3h1V76.9h-1ZM245.9 30.6h1V77h-1ZM248 29.7h1.1V77h-1.1ZM249.9 30.1h1.3V77h-1.3ZM252.4 28h1.3V76.8h-1.3ZM253.7 33.8h0.9V76.7h-0.9ZM255.6 35.3h1.1V76.5h-1.1ZM257.8 35.6h1.4V76.4h-1.4ZM260.3 29.8h1V76.2h-1ZM262.4 29.1h1.3V76h-1.3ZM264.7 32.3h1.1V75.8h-1.1ZM267 31.4h1.3V75.6h-1.3ZM269.1 28.6h1.1V75.5h-1.1ZM271 30.6h1.4V75.3h-1.4ZM273.2 30.4h0.9V75.1h-0.9ZM275.1 34.5h1.4V75h-1.4ZM277.8 33.8h1.3V74.7h-1.3ZM280.3 34.7h1.2V74.5h-1.2ZM282.5 30.3h1.3V74.4h-1.3ZM284.6 30.7h1.2V74.2h-1.2ZM286.9 34.2h1V74h-1ZM289.1 28.6h1.3V73.8h-1.3ZM291.3 34.9h1V73.9h-1ZM292.3 33.6h0.9V74h-0.9ZM294.1 31h1.1V74.2h-1.1ZM296.2 26.3h1.1V74.5h-1.1ZM297.3 31h0.8V74.6h-0.8ZM298.1 27.2h0.8V74.7h-0.8ZM299.6 32.3h1.1V74.9h-1.1ZM301.4 29.5h1V75.1h-1ZM303.8 30.3h0.9V75.4h-0.9ZM304.7 33.2h0.9V75.5h-0.9ZM306.4 28.5h1V75.7h-1ZM308.1 28.9h1.1V75.9h-1.1ZM310 30.4h1.1V76.1h-1.1ZM311.8 33.6h1V76.3h-1ZM313.6 32.1h1V76.6h-1ZM315.3 28.9h0.8V76.8h-0.8ZM316.7 28.6h0.9V76.9h-0.9ZM317.6 29.3h0.8V77h-0.8ZM318.4 33.2h0.9V77.1h-0.9ZM319.9 29.9h0.8V77.3h-0.8ZM321.1 29.9h0.8V77.4h-0.8ZM322.7 33.8h1.1V77.6h-1.1ZM323.8 31.4h0.8V77.8h-0.8ZM325 30.2h1V77.9h-1ZM326.7 32.6h0.8V78.1h-0.8ZM327.5 33.2h0.9V78.2h-0.9ZM329.3 32.2h0.7V78.4h-0.7ZM330 28.1h1.1V78.5h-1.1ZM331.1 33.8h0.8V78.6h-0.8ZM332.6 26.4h0.8V78.8h-0.8ZM333.4 30.8h0.8V78.9h-0.8ZM334.8 29.1h1V79.1h-1ZM336.2 32.5h1.1V79.3h-1.1ZM337.7 29.8h1V79.5h-1ZM338.7 27.1h0.8V79.6h-0.8ZM340 29.7h1V79.8h-1ZM341.3 30h0.8V80h-0.8ZM343.7 31.8h0.8V80.3h-0.8ZM345.9 29.6h0.9V80.6h-0.9ZM348.6 30.3h0.9V80.9h-0.9ZM350.4 28.7h0.7V81.2h-0.7ZM351.1 27.5h0.9V81.3h-0.9ZM353.4 34h0.8V81.6h-0.8ZM354.2 29.3h0.8V81.7h-0.8ZM355 26.6h0.7V81.8h-0.7ZM355.7 31.3h1V81.9h-1ZM356.7 31.9h0.9V82h-0.9ZM357.6 27.7h0.9V82.1h-0.9ZM358.6 27.4h1V82.2h-1ZM360.3 28.4h0.9V82.5h-0.9ZM361.6 32.2h0.9V82.6h-0.9ZM362.5 28.8h0.8V82.8h-0.8ZM363.3 32.7h1V82.9h-1ZM364.3 28.4h1.1V83h-1.1ZM365.9 30.8h1V83.2h-1ZM366.9 26.1h0.9V83.3h-0.9ZM367.7 30.5h1V83.5h-1ZM368.7 27.5h0.8V83.6h-0.8ZM369.5 33.1h0.8V83.7h-0.8ZM370.9 27h0.9V83.8h-0.9ZM372.7 27.8h0.8V83.9h-0.8ZM373.9 30.7h1V84h-1ZM374.9 28.1h1.1V84.1h-1.1ZM376 28.6h0.9V84.2h-0.9ZM376.9 29.6h0.7V84.2h-0.7ZM378.5 31.9h0.9V84.3h-0.9ZM380 30h0.9V84.4h-0.9ZM380.9 30.9h0.9V84.5h-0.9ZM381.8 33.3h1.1V84.5h-1.1ZM383.2 31.8h0.9V84.6h-0.9ZM385 32.5h0.7V84.8h-0.7ZM386.3 31.2h0.9V84.8h-0.9ZM387.2 31.3h1.1V84.9h-1.1ZM388.3 31.1h1V85h-1ZM389.7 31.1h1V85.1h-1ZM390.6 33.8h1V85.1h-1ZM393 26.6h0.8V85.3h-0.8ZM393.9 27.8h0.9V85.3h-0.9ZM395.3 32.1h1V85.4h-1ZM396.3 30h0.8V85.5h-0.8ZM398.2 31.6h0.8V85.6h-0.8Z" fill="#000"/>
<text transform="translate(11.7,62) rotate(-90) scale(0.917,1)" font-size="14.93" text-anchor="middle" stroke="#000">V<tspan font-size="9.3" dy="4.5">m</tspan><tspan dy="-4.5"> (mV)</tspan></text>
<line x1="365.4" y1="97.1" x2="399.9" y2="97.1" stroke="#000" stroke-width="1.5"/>
<line x1="366" y1="94.9" x2="366" y2="97.8" stroke="#000" stroke-width="1.3"/>
<line x1="399.3" y1="94.9" x2="399.3" y2="97.8" stroke="#000" stroke-width="1.3"/>
<text transform="translate(365,109.9) scale(0.917,1)" font-size="14.93" text-anchor="start" fill="#000" stroke="#000">2 min</text>
<text transform="translate(0.2,135.5) scale(0.917,1)" font-size="18.09" text-anchor="start" fill="#000" stroke="#000">C</text>
<text transform="translate(58.2,137.2) scale(0.917,1)" font-size="14.93" text-anchor="start" fill="#000" stroke="#000">G10</text>
<text transform="translate(139.3,137.6) scale(0.917,1)" font-size="14.93" text-anchor="start" fill="#000" stroke="#000">GW 1 µM</text>
<text transform="translate(379.4,137.2) scale(0.917,1)" font-size="14.93" text-anchor="start" fill="#000" stroke="#000">Tb</text>
<rect x="51.8" y="140.3" width="345.4" height="3" fill="#b4b4b4" stroke="#222" stroke-width="1.2"/>
<rect x="131.2" y="144.7" width="177" height="3.8" fill="#000"/>
<rect x="377.3" y="144.4" width="20.2" height="3.9" fill="#000"/>
<line x1="51.3" y1="146.3" x2="51.3" y2="226.9" stroke="#000" stroke-width="1.7"/>
<line x1="47.8" y1="147.1" x2="51.3" y2="147.1" stroke="#000" stroke-width="1.6"/>
<text transform="translate(41.7,152.5) scale(0.917,1)" font-size="14.93" text-anchor="end" fill="#000" stroke="#000">20</text>
<line x1="47.8" y1="162.9" x2="51.3" y2="162.9" stroke="#000" stroke-width="1.6"/>
<text transform="translate(41.7,168.3) scale(0.917,1)" font-size="14.93" text-anchor="end" fill="#000" stroke="#000">0</text>
<line x1="47.8" y1="178.7" x2="51.3" y2="178.7" stroke="#000" stroke-width="1.6"/>
<text transform="translate(41.7,184.1) scale(0.917,1)" font-size="14.93" text-anchor="end" fill="#000" stroke="#000">-20</text>
<line x1="47.8" y1="194.5" x2="51.3" y2="194.5" stroke="#000" stroke-width="1.6"/>
<text transform="translate(41.7,199.9) scale(0.917,1)" font-size="14.93" text-anchor="end" fill="#000" stroke="#000">-40</text>
<line x1="47.8" y1="210.3" x2="51.3" y2="210.3" stroke="#000" stroke-width="1.6"/>
<text transform="translate(41.7,215.7) scale(0.917,1)" font-size="14.93" text-anchor="end" fill="#000" stroke="#000">-60</text>
<line x1="47.8" y1="226.1" x2="51.3" y2="226.1" stroke="#000" stroke-width="1.6"/>
<text transform="translate(41.7,231.5) scale(0.917,1)" font-size="14.93" text-anchor="end" fill="#000" stroke="#000">-80</text>
<path d="M53.3 202 L53.7 201.4 L54.1 202.1 L54.5 202.1 L54.9 201.9 L55.3 201.8 L55.7 201 L56.1 201.6 L56.5 200.9 L56.9 201.2 L57.3 200.9 L57.7 201.4 L58.1 200.7 L58.5 200.6 L58.9 201.4 L59.3 201.5 L59.7 201 L60.1 200.6 L60.5 201 L60.9 200.6 L61.3 201 L61.7 201.3 L62.1 200.8 L62.5 201.4 L62.9 201 L63.3 200.5 L63.7 200.2 L64.1 200.6 L64.5 201.3 L64.9 200.2 L65.3 200.3 L65.7 201.3 L66.1 200.8 L66.5 200.5 L66.9 200.8 L67.3 201.3 L67.7 201.4 L68.1 200.3 L68.5 201 L68.9 201.2 L69.3 201.2 L69.7 200.6 L70.1 201.5 L70.5 200.8 L70.9 200.4 L71.3 200.3 L71.7 201.3 L72.1 200.7 L72.5 200.3 L72.9 200.8 L73.3 201.2 L73.7 201.1 L74.1 201.4 L74.5 201.1 L74.9 201 L75.3 200.9 L75.7 200.9 L76.1 201.4 L76.5 200.3 L76.9 201.2 L77.3 200.3 L77.7 201.4 L78.1 200.3 L78.5 200.5 L78.9 201 L79.3 201.3 L79.7 200.4 L80.1 200.5 L80.5 201.1 L80.9 201.3 L81.3 200.3 L81.7 200.7 L82.1 201.3 L82.5 200.8 L82.9 201.4 L83.3 201.4 L83.7 201.8 L84.1 201.9 L84.5 201.9 L84.9 202.4 L85.3 202.9 L85.7 203.7 L86.1 203.6 L86.5 203.8 L86.9 204.1 L87.3 204.2 L87.7 204.2 L88.1 204.9 L88.5 203.8 L88.9 203.8 L89.3 204.8 L89.7 204.9 L90.1 204.1 L90.5 204.3 L90.9 203.8 L91.3 203.7 L91.7 203.9 L92.1 203.9 L92.5 203.8 L92.9 204.5 L93.3 204.3 L93.7 204 L94.1 204.7 L94.5 204.2 L94.9 204.8 L95.3 204.2 L95.7 204.8 L96.1 204.6 L96.5 204.7 L96.9 204.9 L97.3 204.1 L97.7 203.9 L98.1 204.6 L98.5 203.9 L98.9 204.1 L99.3 204.3 L99.7 204.7 L100.1 204.4 L100.5 204.8 L100.9 203.7 L101.3 204 L101.7 204.1 L102.1 204.8 L102.5 203.8 L102.9 204.6 L103.3 204.2 L103.7 204.3 L104.1 204.8 L104.5 204.4 L104.9 204.9 L105.3 204.8 L105.7 204 L106.1 203.9 L106.5 204.2 L106.9 204.1 L107.3 204.9 L107.7 204.4 L108.1 203.7 L108.5 204.2 L108.9 204.9 L109.3 204.5 L109.7 204.1 L110.1 204.5 L110.5 204.3 L110.9 204.4 L111.3 203.9 L111.7 204.7 L112.1 204.2 L112.5 204.3 L112.9 204.1 L113.3 204.1 L113.7 204.4 L114.1 204.9 L114.5 204.1 L114.9 204.2 L115.3 204.7 L115.7 204.1 L116.1 204.5 L116.5 203.8 L116.9 204.9 L117.3 204.5 L117.7 203.8 L118.1 203.7 L118.5 203.9 L118.9 203.9 L119.3 203.9 L119.7 204.4 L120.1 204.3 L120.5 203.9 L120.9 204.4 L121.3 204.3 L121.7 203.6 L122.1 203.3 L122.5 203.4 L122.9 203.6 L123.3 203.8 L123.7 204 L124.1 203.1 L124.5 203.2 L124.9 203.3 L125.3 202.6 L125.7 202.7 L126.1 202.6 L126.5 202.8 L126.9 202.9 L127.3 203.1 L127.7 202.6 L128.1 202 L128.5 202.8 L128.9 202.8 L129.3 201.7 L129.7 202.7 L130.1 201.9 L130.5 202.5 L130.9 202.3 L131.3 201.7 L131.7 202.1 L132.1 201.7 L132.5 201.5 L132.9 201.3 L133.3 201 L133.7 201.3 L134.1 200.9 L134.5 200.5 L134.9 200.8 L135.3 200.7 L135.7 200.2 L136.1 200.7 L136.5 200.3 L136.9 200.4 L137.3 200.8 L137.7 200.7 L138.1 201 L138.5 200.7 L138.9 200.8 L139.3 201 L139.7 201.2 L140.1 200.7 L140.5 200.5 L140.9 200.7 L141.3 199.9 L141.7 200.8 L142.1 200.5 L142.5 199.8 L142.9 200.2 L143.3 200.2 L143.7 200.1 L144.1 200.6 L144.5 200.4 L144.9 200.8 L145.3 199.8 L145.7 199.7 L146.1 199.7 L146.5 200.6 L146.9 200.7 L147.3 200.3 L147.7 199.5 L148.1 199.9 L148.5 200.3 L148.9 200.2 L149.3 200.2 L149.7 200.3 L150.1 200 L150.5 199.8 L150.9 200.3 L151.3 199.9 L151.7 199.8 L152.1 200.1 L152.5 199.9 L152.9 199.8 L153.3 200.2 L153.7 199.4 L154.1 199.8 L154.5 199.3 L154.9 199.4 L155.3 199.4 L155.7 200.2 L156.1 199.1 L156.5 199.5 L156.9 199.8 L157.3 199.9 L157.7 199.4 L158.1 198.9 L158.5 199.8 L158.9 199.7 L159.3 199.4 L159.7 199.1 L160.1 199.8 L160.5 199.3 L160.9 200 L161.3 200 L161.7 199.4 L162.1 199.8 L162.5 199.7 L162.9 199.1 L163.3 199 L163.7 199.1 L164.1 199.6 L164.5 198.9 L164.9 199.4 L165.3 199.1 L165.7 199.3 L166.1 198.5 L166.5 198.4 L166.9 197.9 L167.3 197.9 L167.7 198 L168.1 198.3 L168.5 198.4 L168.9 198.7 L169.3 198.3 L169.7 198.5 L170.1 198.1 L170.5 197.4 L170.9 197.5 L171.3 197.3 L171.7 197.2 L172.1 197.1 L172.5 197.9 L172.9 197.8 L173.3 197.1 L173.7 197.7 L174.1 197.4 L174.5 197.1 L174.9 197 L175.3 196.7 L175.7 197.1 L176.1 196.3 L176.5 196.6 L176.9 197.2 L177.3 196.3 L177.7 196 L178.1 196.4 L178.5 196.1 L178.9 195.9 L179.3 196.2 L179.7 196.4 L180.1 196 L180.5 196.1 L180.9 196.5 L181.3 195.9 L181.7 196.3 L182.1 195.6 L182.5 195.7 L182.9 195.3 L183.3 195.7 L183.7 194.8 L184.1 195.8 L184.5 195.9 L184.9 195 L185.3 195.4 L185.7 194.6 L186.1 194.5 L186.5 195.4 L186.9 194.7 L187.3 195.2 L187.7 195.2 L188.1 194.3 L188.5 194.7 L188.9 194.9 L189.3 194 L189.7 194.7 L190.1 194.1 L190.5 194.7 L190.9 193.5 L191.3 193.8 L191.7 194.6 L192.1 194.1 L192.5 193.2 L192.9 194.1 L193.3 193.8 L193.7 193.5 L194.1 193.4 L194.5 193.7 L194.9 193 L195.3 193.5 L195.7 193.1 L196.1 193.2 L196.5 193.2 L196.9 193.3 L197.3 193.9 L197.7 193.5 L198.1 193.9 L198.5 193 L198.9 193.7 L199.3 193.9 L199.7 193.3 L200.1 193.1 L200.5 193.8 L200.9 193.6 L201.3 193.9 L201.7 193.4 L202.1 193.5 L202.5 193.4 L202.9 193.9 L203.3 193.1 L203.7 194.3 L204.1 193.8 L204.5 193.2 L204.9 194.1 L205.3 193.4 L205.7 194 L206.1 193.3 L206.5 193.9 L206.9 194.2 L207.3 193.6 L207.7 194.1 L208.1 193.7 L208.5 194 L208.9 193.4 L209.3 193.2 L209.7 193.7 L210.1 193.5 L210.5 194.4 L210.9 194.4 L211.3 193.9 L211.7 194 L212.1 194.3 L212.5 193.3 L212.9 194.5 L213.3 194.4 L213.7 194.2 L214.1 194.6 L214.5 194.2 L214.9 194.2 L215.3 193.9 L215.7 193.8 L216.1 193.5 L216.5 194.2 L216.9 193.9 L217.3 193.9 L217.7 194.8 L218.1 193.6 L218.5 193.7 L218.9 194.6 L219.3 194.1 L219.7 194.7 L220.1 194.6 L220.5 194.5 L220.9 194.7 L221.3 194.4 L221.7 194.3 L222.1 193.9 L222.5 194.7 L222.9 193.9 L223.3 194.7 L223.7 194.6 L224.1 195 L224.5 194.7 L224.9 194.4 L225.3 195.2 L225.7 195 L226.1 194.6 L226.5 195.3 L226.9 195.1 L227.3 195.3 L227.7 194.3 L228.1 195.4 L228.5 194.4 L228.9 194.8 L229.3 194.7 L229.7 195.2 L230.1 195.4 L230.5 194.3 L230.9 194.6 L231.3 195.4 L231.7 194.9 L232.1 194.4 L232.5 195.6 L232.9 195 L233.3 194.9 L233.7 195.3 L234.1 195.6 L234.5 195.7 L234.9 195.1 L235.3 194.7 L235.7 195.8 L236.1 195.8 L236.5 195.6 L236.9 195.3 L237.3 195.4 L237.7 195.4 L238.1 194.7 L238.5 194.8 L238.9 195.9 L239.3 195.3 L239.7 194.7 L240.1 195.2 L240.5 195.3 L240.9 195.8 L241.3 194.8 L241.7 195.6 L242.1 195.9 L242.5 195.6 L242.9 195.7 L243.3 195.2 L243.7 195.7 L244.1 194.9 L244.5 195.4 L244.9 195.3 L245.3 195.5 L245.7 195.1 L246.1 196 L246.5 195.8 L246.9 195.9 L247.3 195.4 L247.7 195.6 L248.1 195.7 L248.5 195.8 L248.9 196.2 L249.3 195.7 L249.7 195.2 L250.1 195.9 L250.5 195.2 L250.9 195.5 L251.3 195.2 L251.7 196 L252.1 196.2 L252.5 195.7 L252.9 195.3 L253.3 196.4 L253.7 196 L254.1 195.4 L254.5 195.7 L254.9 195.4 L255.3 196.4 L255.7 196.1 L256.1 195.5 L256.5 195.4 L256.9 196.3 L257.3 195.7 L257.7 196 L258.1 196.7 L258.5 195.5 L258.9 196.5 L259.3 196.1 L259.7 195.9 L260.1 196.6 L260.5 196.4 L260.9 195.9 L261.3 196.3 L261.7 196 L262.1 196.2 L262.5 196.8 L262.9 196 L263.3 196.6 L263.7 196.7 L264.1 196.3 L264.5 196.2 L264.9 196.1 L265.3 196.3 L265.7 196.5 L266.1 196.4 L266.5 196.9 L266.9 197.3 L267.3 197.2 L267.7 196.5 L268.1 197.5 L268.5 197.4 L268.9 196.8 L269.3 196.6 L269.7 196.8 L270.1 196.8 L270.5 197 L270.9 197.3 L271.3 196.9 L271.7 197.3 L272.1 198 L272.5 197.8 L272.9 197.4 L273.3 198.2 L273.7 198.2 L274.1 198.7 L274.5 198.4 L274.9 198.1 L275.3 198.2 L275.7 198.2 L276.1 198.2 L276.5 198.5 L276.9 199 L277.3 199.7 L277.7 199.4 L278.1 199.7 L278.5 199.6 L278.9 200 L279.3 199.7 L279.7 199.8 L280.1 199.9 L280.5 199.7 L280.9 200.1 L281.3 200.7 L281.7 200 L282.1 200.2 L282.5 201.3 L282.9 201 L283.3 201.1 L283.7 201 L284.1 201.6 L284.5 201.3 L284.9 202.2 L285.3 201.2 L285.7 201.3 L286.1 201.6 L286.5 201.9 L286.9 202.6 L287.3 202.7 L287.7 203.1 L288.1 202.5 L288.5 202.4 L288.9 203.2 L289.3 202.5 L289.7 202.6 L290.1 202.7 L290.5 203.7 L290.9 203.7 L291.3 203.1 L291.7 203.3 L292.1 204 L292.5 204.2 L292.9 203.6 L293.3 204.3 L293.7 203.9 L294.1 204.4 L294.5 205.1 L294.9 204.5 L295.3 204.9 L295.7 205.4 L296.1 205.1 L296.5 205.4 L296.9 206 L297.3 205.2 L297.7 206.1 L298.1 205.8 L298.5 206.1 L298.9 205.9 L299.3 206.1 L299.7 206.4 L300.1 206.7 L300.5 206.2 L300.9 206.8 L301.3 206 L301.7 207 L302.1 206.4 L302.5 206.4 L302.9 206.8 L303.3 207 L303.7 207.1 L304.1 207.6 L304.5 206.9 L304.9 207.4 L305.3 208.1 L305.7 207.9 L306.1 207.4 L306.5 207.9 L306.9 207.7 L307.3 208.6 L307.7 208.2 L308.1 207.7 L308.5 207.9 L308.9 208.8 L309.3 208.4 L309.7 208.8 L310.1 208.6 L310.5 208.5 L310.9 208.4 L311.3 209.5 L311.7 209.2 L312.1 209.2 L312.5 209.3 L312.9 209.1 L313.3 209.7 L313.7 209.8 L314.1 209.5 L314.5 210.5 L314.9 210 L315.3 210.2 L315.7 210.3 L316.1 210.8 L316.5 209.8 L316.9 210.1 L317.3 210.7 L317.7 210.4 L318.1 210.1 L318.5 211 L318.9 210.7 L319.3 211.4 L319.7 211.6 L320.1 210.9 L320.5 211.2 L320.9 211.4 L321.3 211.1 L321.7 211.1 L322.1 211.7 L322.5 211.2 L322.9 211.9 L323.3 212.1 L323.7 212.4 L324.1 212.8 L324.5 212.1 L324.9 212.1 L325.3 212.3 L325.7 212 L326.1 212.2 L326.5 212.9 L326.9 212.2 L327.3 212.5 L327.7 212.1 L328.1 213.1 L328.5 212.2 L328.9 212.7 L329.3 212.5 L329.7 213.2 L330.1 213.6 L330.5 212.9 L330.9 212.7 L331.3 212.6 L331.7 212.9 L332.1 213 L332.5 213.5 L332.9 213.1 L333.3 213.3 L333.7 212.8 L334.1 213.4 L334.5 213.6 L334.9 213.8 L335.3 213.4 L335.7 213.3 L336.1 213.9 L336.5 213.6 L336.9 213.3 L337.3 214 L337.7 213.8 L338.1 214.3 L338.5 214.3 L338.9 213.8 L339.3 214.6 L339.7 214.6 L340.1 214.4 L340.5 214.7 L340.9 213.7 L341.3 214.5 L341.7 214.3 L342.1 214.8 L342.5 214.3 L342.9 214.2 L343.3 214.1 L343.7 214 L344.1 214.8 L344.5 215.2 L344.9 214.5 L345.3 215.1 L345.7 214.7 L346.1 214.4 L346.5 215.5 L346.9 215 L347.3 214.8 L347.7 215.1 L348.1 215.6 L348.5 214.6 L348.9 215.8 L349.3 216 L349.7 214.9 L350.1 215.6 L350.5 215.5 L350.9 215.7 L351.3 215.1 L351.7 215.7 L352.1 215.5 L352.5 215.6 L352.9 215.5 L353.3 216 L353.7 215.6 L354.1 215.3 L354.5 215.9 L354.9 215.5 L355.3 215.7 L355.7 215.5 L356.1 216.5 L356.5 215.7 L356.9 216 L357.3 215.9 L357.7 216.4 L358.1 215.8 L358.5 216.2 L358.9 216.7 L359.3 216.2 L359.7 216.2 L360.1 216 L360.5 216.3 L360.9 216.2 L361.3 216.1 L361.7 216.9 L362.1 215.9 L362.5 217.1 L362.9 217.1 L363.3 216.4 L363.7 216.3 L364.1 217 L364.5 216.2 L364.9 217 L365.3 216.2 L365.7 216.4 L366.1 216.8 L366.5 217.3 L366.9 216.3 L367.3 217 L367.7 216.8 L368.1 217.3 L368.5 217.2 L368.9 217 L369.3 217.7 L369.7 217.5 L370.1 216.7 L370.5 217.8 L370.9 217.7 L371.3 217.4 L371.7 217 L372.1 217.2 L372.5 217.6 L372.9 218 L373.3 218 L373.7 218 L374.1 218 L374.5 217.7 L374.9 217.7 L375.3 218.2 L375.7 218.1 L376.1 217.5 L376.5 217.3 L376.9 218 L377.3 217.9 L377.7 218.3 L378.1 218.5 L378.5 217.4 L378.9 218.1 L379.3 217.8 L379.7 218.7 L380.1 217.6 L380.5 218.2 L380.9 218 L381.3 218.1 L381.7 218.7 L382.1 217.9 L382.5 217.7 L382.9 218.2 L383.3 218.8 L383.7 218.6 L383.7 222.5 L383.3 223.5 L382.9 223.5 L382.5 226.7 L382.1 223.9 L381.7 223.1 L381.3 223 L380.9 223.6 L380.5 223.4 L380.1 222.4 L379.7 222.7 L379.3 222.2 L378.9 224.9 L378.5 222 L378.1 222.8 L377.7 222.6 L377.3 225 L376.9 222.4 L376.5 222.7 L376.1 222.3 L375.7 223.2 L375.3 222.4 L374.9 223.2 L374.5 222.1 L374.1 221.8 L373.7 219.8 L373.3 221 L372.9 221.2 L372.5 220.3 L372.1 221.7 L371.7 221.4 L371.3 221.9 L370.9 224.8 L370.5 221.3 L370.1 221.9 L369.7 222 L369.3 221.9 L368.9 221.7 L368.5 221.9 L368.1 221.5 L367.7 221.2 L367.3 221.1 L366.9 220.9 L366.5 221.1 L366.1 221.2 L365.7 220.3 L365.3 220.6 L364.9 224.7 L364.5 220.1 L364.1 220.8 L363.7 221.8 L363.3 221.2 L362.9 221.4 L362.5 223.4 L362.1 221.3 L361.7 220.6 L361.3 221.2 L360.9 221.1 L360.5 219.5 L360.1 220.8 L359.7 220.6 L359.3 220.5 L358.9 221.6 L358.5 220.6 L358.1 220.8 L357.7 221.3 L357.3 222.8 L356.9 221.4 L356.5 221.5 L356.1 223.4 L355.7 221.3 L355.3 220.3 L354.9 220.9 L354.5 220.3 L354.1 220.7 L353.7 221.7 L353.3 221.3 L352.9 220.3 L352.5 221.5 L352.1 220.7 L351.7 220.8 L351.3 220.9 L350.9 219.8 L350.5 220.6 L350.1 220.9 L349.7 220.8 L349.3 220.7 L348.9 220.4 L348.5 220.2 L348.1 219.6 L347.7 219.6 L347.3 219.2 L346.9 219.4 L346.5 219.7 L346.1 220.6 L345.7 219.3 L345.3 219.4 L344.9 219.5 L344.5 219 L344.1 219 L343.7 218.2 L343.3 218.8 L342.9 218.8 L342.5 218.7 L342.1 218.7 L341.7 218.4 L341.3 218.2 L340.9 219.3 L340.5 218.6 L340.1 219 L339.7 219.9 L339.3 219.6 L338.9 217.9 L338.5 218.8 L338.1 219.8 L337.7 220.3 L337.3 220.4 L336.9 219.2 L336.5 220.5 L336.1 219.3 L335.7 218.5 L335.3 218.7 L334.9 218.8 L334.5 219.3 L334.1 218.4 L333.7 219.4 L333.3 219.2 L332.9 220.3 L332.5 220.6 L332.1 220.2 L331.7 219.5 L331.3 221.4 L330.9 219.2 L330.5 219 L330.1 219.7 L329.7 220.2 L329.3 219.1 L328.9 218.6 L328.5 217.4 L328.1 218.3 L327.7 219.7 L327.3 221.1 L326.9 217.9 L326.5 217.1 L326.1 218.4 L325.7 217 L325.3 217.6 L324.9 217.8 L324.5 218.1 L324.1 218.2 L323.7 217.8 L323.3 217.4 L322.9 217.7 L322.5 217.9 L322.1 216.9 L321.7 216.4 L321.3 218.1 L320.9 216.8 L320.5 216.9 L320.1 217.2 L319.7 216.8 L319.3 216.8 L318.9 218.1 L318.5 216.5 L318.1 216 L317.7 217.8 L317.3 219.1 L316.9 218.7 L316.5 219.1 L316.1 219.7 L315.7 216.3 L315.3 215.9 L314.9 216 L314.5 217.5 L314.1 215.9 L313.7 215.5 L313.3 215.1 L312.9 215.2 L312.5 215.9 L312.1 215.8 L311.7 216 L311.3 215.8 L310.9 216.3 L310.5 215.5 L310.1 214.9 L309.7 214.4 L309.3 216.4 L308.9 214.9 L308.5 215 L308.1 215.6 L307.7 215.8 L307.3 214.9 L306.9 215 L306.5 215.1 L306.1 215.2 L305.7 214.8 L305.3 215.1 L304.9 215.1 L304.5 215.2 L304.1 215.6 L303.7 214.9 L303.3 214.2 L302.9 214.5 L302.5 214.2 L302.1 214.5 L301.7 215.7 L301.3 214.9 L300.9 213.3 L300.5 214.2 L300.1 214.6 L299.7 213.3 L299.3 213.5 L298.9 212.7 L298.5 213.4 L298.1 211.7 L297.7 213.5 L297.3 214.1 L296.9 212.6 L296.5 213.4 L296.1 213 L295.7 213.3 L295.3 214.6 L294.9 211.7 L294.5 212.2 L294.1 212.6 L293.7 212.9 L293.3 212.1 L292.9 211.6 L292.5 211.2 L292.1 210.9 L291.7 213.3 L291.3 211.5 L290.9 210.3 L290.5 210.7 L290.1 212.7 L289.7 211.3 L289.3 210.9 L288.9 210.7 L288.5 211.6 L288.1 208.2 L287.7 209.7 L287.3 209.4 L286.9 209 L286.5 208.9 L286.1 208.7 L285.7 209.2 L285.3 207.7 L284.9 207.9 L284.5 208.7 L284.1 208.4 L283.7 209.2 L283.3 208.8 L282.9 208.8 L282.5 208.6 L282.1 210.7 L281.7 209.8 L281.3 210.1 L280.9 208.7 L280.5 213.5 L280.1 209.4 L279.7 208.8 L279.3 209.5 L278.9 210.7 L278.5 213.6 L278.1 208.4 L277.7 209 L277.3 207.5 L276.9 206.5 L276.5 207 L276.1 205.3 L275.7 206.3 L275.3 206.9 L274.9 206.7 L274.5 207.3 L274.1 207.4 L273.7 208.7 L273.3 207.7 L272.9 207.1 L272.5 206.9 L272.1 206 L271.7 206.7 L271.3 207.2 L270.9 207.3 L270.5 205.9 L270.1 207 L269.7 210.5 L269.3 206.9 L268.9 211.6 L268.5 206.1 L268.1 210.4 L267.7 206.2 L267.3 207.1 L266.9 205.9 L266.5 211.2 L266.1 207.9 L265.7 206.3 L265.3 207.3 L264.9 206.6 L264.5 207.1 L264.1 207.4 L263.7 207.3 L263.3 207.1 L262.9 206.3 L262.5 206.2 L262.1 206.7 L261.7 206.3 L261.3 206.9 L260.9 205.8 L260.5 206.9 L260.1 206.9 L259.7 206.8 L259.3 205.9 L258.9 212.4 L258.5 208.6 L258.1 206 L257.7 206.1 L257.3 210.8 L256.9 207.1 L256.5 209 L256.1 206.4 L255.7 206.1 L255.3 206.3 L254.9 205.7 L254.5 206.8 L254.1 210 L253.7 206.1 L253.3 205.6 L252.9 204.4 L252.5 204.5 L252.1 209.1 L251.7 204.1 L251.3 204.2 L250.9 205.4 L250.5 205.4 L250.1 204.7 L249.7 206.2 L249.3 206.4 L248.9 207 L248.5 205.8 L248.1 208.5 L247.7 205.7 L247.3 205.5 L246.9 205.5 L246.5 205.5 L246.1 206.6 L245.7 207.1 L245.3 206.9 L244.9 207.9 L244.5 206.9 L244.1 206.8 L243.7 205.9 L243.3 205.7 L242.9 205.8 L242.5 211.6 L242.1 206.5 L241.7 206.4 L241.3 205.4 L240.9 206.1 L240.5 207.6 L240.1 208.8 L239.7 206.8 L239.3 207.2 L238.9 208.7 L238.5 206.8 L238.1 211 L237.7 207.6 L237.3 208.2 L236.9 206.9 L236.5 207.4 L236.1 207.9 L235.7 212.7 L235.3 206.3 L234.9 206.4 L234.5 205.9 L234.1 209.9 L233.7 206 L233.3 206.4 L232.9 205.9 L232.5 208 L232.1 209.3 L231.7 207.6 L231.3 205.1 L230.9 208.8 L230.5 205.9 L230.1 205.1 L229.7 204.8 L229.3 205.3 L228.9 205.2 L228.5 205.4 L228.1 208.9 L227.7 210.4 L227.3 206 L226.9 207.6 L226.5 206.8 L226.1 207.2 L225.7 205.8 L225.3 206 L224.9 205.8 L224.5 204.2 L224.1 204.5 L223.7 204.4 L223.3 204.1 L222.9 206.9 L222.5 207.2 L222.1 208 L221.7 203.5 L221.3 203.7 L220.9 207.2 L220.5 204.6 L220.1 205.1 L219.7 203.8 L219.3 204 L218.9 204.4 L218.5 203.2 L218.1 204.2 L217.7 207.3 L217.3 203.1 L216.9 203.3 L216.5 203.4 L216.1 207.2 L215.7 204.8 L215.3 203.9 L214.9 203.5 L214.5 203.7 L214.1 204.2 L213.7 206.3 L213.3 204.8 L212.9 204.2 L212.5 204.2 L212.1 203.6 L211.7 202.7 L211.3 202.3 L210.9 204.1 L210.5 204.7 L210.1 206.8 L209.7 205.2 L209.3 209.2 L208.9 205.7 L208.5 206 L208.1 204.3 L207.7 204.6 L207.3 207.4 L206.9 205.7 L206.5 204 L206.1 205.5 L205.7 203.2 L205.3 207.8 L204.9 206.7 L204.5 205 L204.1 204.2 L203.7 205.4 L203.3 208.5 L202.9 204.1 L202.5 206 L202.1 203.9 L201.7 203.6 L201.3 210.3 L200.9 203.6 L200.5 204.4 L200.1 206.5 L199.7 203.8 L199.3 203.7 L198.9 204 L198.5 204 L198.1 203.9 L197.7 204.8 L197.3 202.6 L196.9 202.9 L196.5 204.1 L196.1 204.7 L195.7 206.4 L195.3 208 L194.9 203.2 L194.5 207.3 L194.1 203.4 L193.7 203.7 L193.3 204.4 L192.9 204.7 L192.5 205.3 L192.1 205.2 L191.7 204.3 L191.3 205.4 L190.9 204.6 L190.5 204.4 L190.1 205 L189.7 205.3 L189.3 204.2 L188.9 204.9 L188.5 208.9 L188.1 205.4 L187.7 204.2 L187.3 207.5 L186.9 204 L186.5 204.6 L186.1 207.6 L185.7 203.3 L185.3 203.5 L184.9 208.4 L184.5 206.3 L184.1 203.7 L183.7 203.2 L183.3 203.1 L182.9 202.9 L182.5 204.2 L182.1 203.9 L181.7 203 L181.3 201.6 L180.9 206.3 L180.5 202.5 L180.1 203.4 L179.7 204.4 L179.3 203.6 L178.9 204.9 L178.5 204.1 L178.1 209.1 L177.7 205.3 L177.3 204.9 L176.9 204.9 L176.5 204.5 L176.1 205.4 L175.7 205.1 L175.3 204.6 L174.9 205.5 L174.5 204.6 L174.1 203.9 L173.7 204.1 L173.3 203.3 L172.9 203.5 L172.5 204.7 L172.1 204.9 L171.7 205.2 L171.3 207 L170.9 208.3 L170.5 204.1 L170.1 205.2 L169.7 206.9 L169.3 205.2 L168.9 204.8 L168.5 206.2 L168.1 205.6 L167.7 209.7 L167.3 208.7 L166.9 204.8 L166.5 203.9 L166.1 205.1 L165.7 204.6 L165.3 204.9 L164.9 204.9 L164.5 204.8 L164.1 207.7 L163.7 208.7 L163.3 204.3 L162.9 204.6 L162.5 204.8 L162.1 203.3 L161.7 204.7 L161.3 204.4 L160.9 204.9 L160.5 204.9 L160.1 204.8 L159.7 203.9 L159.3 205.6 L158.9 206 L158.5 207 L158.1 206.4 L157.7 205.5 L157.3 212.6 L156.9 205.2 L156.5 207.8 L156.1 209.4 L155.7 206.4 L155.3 207.2 L154.9 206.5 L154.5 205.3 L154.1 206.3 L153.7 204.5 L153.3 206.6 L152.9 204.7 L152.5 205.6 L152.1 206.3 L151.7 205.9 L151.3 205.4 L150.9 205.7 L150.5 206.2 L150.1 206.4 L149.7 206.4 L149.3 206.5 L148.9 205.4 L148.5 205.8 L148.1 209.3 L147.7 209.8 L147.3 205 L146.9 207.8 L146.5 205.5 L146.1 206.1 L145.7 206.3 L145.3 206.5 L144.9 206.7 L144.5 208.5 L144.1 210.6 L143.7 206.3 L143.3 205.6 L142.9 206 L142.5 207.2 L142.1 206.2 L141.7 206.8 L141.3 206.2 L140.9 204.9 L140.5 205.8 L140.1 206.3 L139.7 206.7 L139.3 207.5 L138.9 206.7 L138.5 206.7 L138.1 207.1 L137.7 205.9 L137.3 207.1 L136.9 209.5 L136.5 208.6 L136.1 208.9 L135.7 207.7 L135.3 207.6 L134.9 208.7 L134.5 208.6 L134.1 210.7 L133.7 208.3 L133.3 209.1 L132.9 209.2 L132.5 214.2 L132.1 208.9 L131.7 209.1 L131.3 211.1 L130.9 210 L130.5 208.2 L130.1 208.1 L129.7 208.1 L129.3 208 L128.9 208.4 L128.5 208.4 L128.1 211.6 L127.7 207.6 L127.3 210.2 L126.9 211.1 L126.5 206.7 L126.1 207.9 L125.7 208.3 L125.3 207.3 L124.9 206 L124.5 206.8 L124.1 207.6 L123.7 206.4 L123.3 206.6 L122.9 206.6 L122.5 206.9 L122.1 208.1 L121.7 207.1 L121.3 207.5 L120.9 208.4 L120.5 207 L120.1 210.7 L119.7 207.8 L119.3 210 L118.9 208.2 L118.5 208.7 L118.1 207.6 L117.7 207.5 L117.3 207.3 L116.9 207.4 L116.5 211.6 L116.1 208.1 L115.7 212 L115.3 207 L114.9 207.2 L114.5 207.5 L114.1 207.3 L113.7 208.4 L113.3 207.9 L112.9 207.6 L112.5 207.5 L112.1 207 L111.7 206.6 L111.3 206.3 L110.9 207.4 L110.5 208.2 L110.1 208.5 L109.7 207.7 L109.3 208.2 L108.9 208 L108.5 211.2 L108.1 209.4 L107.7 207.9 L107.3 208.1 L106.9 208.9 L106.5 207.7 L106.1 207.5 L105.7 207.4 L105.3 207.8 L104.9 207.3 L104.5 209.4 L104.1 208.3 L103.7 211.6 L103.3 208.4 L102.9 207.7 L102.5 208.5 L102.1 211 L101.7 211.5 L101.3 209.9 L100.9 213 L100.5 208.3 L100.1 213 L99.7 208.2 L99.3 212.2 L98.9 207.7 L98.5 215.4 L98.1 210.8 L97.7 212.4 L97.3 207.4 L96.9 209 L96.5 207.3 L96.1 207.7 L95.7 208 L95.3 207.5 L94.9 211.2 L94.5 207.7 L94.1 210.1 L93.7 206.2 L93.3 206.9 L92.9 206.6 L92.5 206.3 L92.1 206.9 L91.7 207.5 L91.3 208.3 L90.9 210.8 L90.5 207.5 L90.1 207.3 L89.7 207.4 L89.3 207.1 L88.9 206.8 L88.5 206.1 L88.1 206.7 L87.7 211.4 L87.3 208.1 L86.9 207.1 L86.5 211 L86.1 209.1 L85.7 207 L85.3 207.1 L84.9 206.9 L84.5 207.3 L84.1 205.9 L83.7 206.8 L83.3 208.2 L82.9 208.1 L82.5 208.1 L82.1 210.8 L81.7 207 L81.3 210.1 L80.9 206.1 L80.5 207.4 L80.1 206.7 L79.7 206 L79.3 209.8 L78.9 207 L78.5 212.9 L78.1 208.2 L77.7 207.3 L77.3 208.9 L76.9 207.1 L76.5 208.3 L76.1 208.8 L75.7 209.5 L75.3 209.1 L74.9 209.9 L74.5 208.9 L74.1 208.3 L73.7 208.2 L73.3 208.4 L72.9 207.5 L72.5 207.8 L72.1 211.3 L71.7 207.9 L71.3 207.8 L70.9 211.1 L70.5 207.2 L70.1 207.7 L69.7 207.1 L69.3 208.3 L68.9 208.3 L68.5 207.6 L68.1 207.4 L67.7 214.2 L67.3 210.4 L66.9 207.7 L66.5 208.4 L66.1 209 L65.7 209.4 L65.3 213.2 L64.9 209.3 L64.5 209.4 L64.1 209.1 L63.7 211.8 L63.3 211.5 L62.9 210 L62.5 209.4 L62.1 215.6 L61.7 210.1 L61.3 209.7 L60.9 213.4 L60.5 214.4 L60.1 209.2 L59.7 209.3 L59.3 209.4 L58.9 210 L58.5 210 L58.1 209.5 L57.7 209.2 L57.3 210.2 L56.9 209.9 L56.5 210.9 L56.1 210.6 L55.7 210.1 L55.3 210.9 L54.9 212.5 L54.5 212 L54.1 213.9 L53.7 215.2 L53.3 213.7Z" fill="#000"/>
<path d="M53.2 207.4L53.3 169.5L53.5 165L53.8 167.2L54 178.4L54.2 164.5L54.5 167.3L54.7 170.2L54.9 163.4L55.2 165.3L55.5 167.4L55.7 163.6L56 164.3L56.1 176.3L56.4 167.4L56.6 169.4L57 172.4L57 206.5ZM56.9 206.4L57 164.2L57.3 158.1L57.5 159.7L57.6 168.2L57.9 164.6L58.1 165.3L58.3 165.6L58.6 161.9L58.8 162.7L59 170.8L59.3 165L59.5 166.6L59.8 167.6L60.1 163.2L60.3 166L60.7 169L60.7 205.7ZM61.5 205.7L61.6 169.8L61.8 164.7L62.1 167.6L62.2 168.9L62.5 162.1L62.7 163.3L63 169.9L63.2 161L63.5 162.2L63.9 165.5L64.1 162.3L64.4 163.3L64.5 168.8L64.8 164.3L65 167.1L65.2 170.2L65.4 163.8L65.7 166.7L66 168L66.3 162.8L66.5 165.7L66.8 172.3L67.1 163.8L67.3 164.9L67.7 175.8L68 162.5L68.2 164.8L68.3 167.9L68.6 161.7L68.8 164.1L68.8 167.1L68.8 205.3ZM68.7 205.3L68.8 163.3L69 159.4L69.3 160.5L69.6 170.1L69.8 161.5L70.1 163.4L70.2 166.3L70.4 160.5L70.7 163.2L70.7 192.9L71 161.6L71.2 163.2L71.7 191.2L71.9 162.4L72.2 163.7L72.3 163.5L72.5 160.4L72.8 162.9L73 169.9L73.3 161L73.5 163.2L73.8 163.4L74.1 159L74.3 161.8L74.9 164.8L74.9 205ZM74.8 205L74.9 169.9L75.1 161.2L75.4 163.4L75.8 166.8L76 161.2L76.3 161.9L76.5 167.1L76.8 161.6L77 164.5L77.2 162.5L77.5 156.7L77.7 158.5L77.8 165L78.1 160.5L78.3 161.6L78.4 166.4L78.7 163.2L78.9 165.4L79.2 167.4L79.5 163.1L79.7 165.1L80.1 168L80.3 160.9L80.6 162.9L80.7 165.9L80.7 204.7ZM80.6 204.6L80.7 168.2L81 161.4L81.2 164L81.4 167.9L81.7 163.9L81.9 166.2L82.2 171.9L82.4 163.1L82.7 165.6L82.7 167.9L83 161.4L83.2 162.6L83.4 168L83.7 162.9L83.9 165.5L84.2 171L84.4 162L84.7 162.5L84.9 167.5L85.1 163.3L85.4 164.1L85.8 190L86 159.5L86.3 161.1L86.3 164.1L86.3 205.9ZM86 154.5H86.9L87.2 206.1H85.8ZM87.8 157.1H88.8L89 206.3H87.5ZM89 157.6H90.1L90.3 206.3H88.7ZM90.3 154.3H91.3L91.5 206.3H90ZM92.6 152.6H93.5L93.7 206.3H92.3ZM96.2 153.7H97.3L97.5 206.3H95.9ZM98.2 158.4H99.1L99.4 206.3H97.9ZM99.2 157.3H100.2L100.5 206.3H98.9ZM100.4 165.7H101.6L101.9 206.3H100.1ZM103.5 152.4H104.6L104.8 206.3H103.2ZM105.7 166.2H106.6L106.9 206.3H105.4ZM107.5 155.1H108.6L108.8 206.3H107.2ZM110.3 168.5H111.4L111.6 206.3H110ZM112.1 158.2H113.3L113.5 206.3H111.8ZM114.3 151.9H115.4L115.7 206.3H114ZM117.1 159.1H118.3L118.5 206.3H116.8ZM119.2 169.5H120.2L120.5 206.3H119ZM121.3 154H122.2L122.5 206.1H121.1ZM124.8 155.4H125.8L126.1 205.6H124.5ZM126.7 165.6H127.8L128.1 205.4H126.4ZM129 159.6H130.1L130.3 205H128.7ZM131.1 158.9H132.1L132.4 204.8H130.9ZM132.8 165.7H133.9L134.2 204.5H132.5ZM136.6 153.7H137.6L137.9 204.2H136.4ZM140.5 156.5H141.3L141.6 203.9H140.3ZM142.6 160.1H143.7L144 203.8H142.3ZM143.7 164.9H144.9L145.2 203.7H143.4ZM146.2 158.1H147L147.3 203.5H145.9ZM147.6 162.4H148.6L148.9 203.4H147.3ZM148.7 155.9H149.8L150.1 203.4H148.4ZM150.7 153.6H151.9L152.1 203.2H150.4ZM153.2 157H154.3L154.6 203.1H152.9ZM155.2 165.1H156.1L156.4 202.9H154.9ZM157.1 154H158.1L158.4 202.8H156.8ZM158.6 154.3H159.8L160.1 202.7H158.3ZM159.9 162.5H161L161.2 202.6H159.6ZM161.8 161.4H162.9L163.2 202.5H161.5ZM163.8 169.9H164.9L165.2 202.3H163.5ZM165.9 158.5H167.1L167.4 202H165.6ZM168.3 158.3H169.5L169.8 201.8H168ZM170.3 168.3H171.4L171.7 201.6H170ZM172.2 155.1H173.1L173.4 201.4H171.9ZM173.8 164.2H174.9L175.2 201.2H173.5ZM175.9 151.9H176.7L177 201H175.6ZM177.9 163.1H178.8L179.1 200.8H177.6ZM179.7 160.3H180.6L180.9 200.6H179.4ZM181.5 153.2H182.3L182.7 200.4H181.2ZM183.1 151.9H184.1L184.5 200.2H182.7ZM184.3 157.5H185.2L185.6 200.1H183.9ZM186 156.8H187L187.4 199.9H185.5ZM189.2 167.8H190.2L190.7 199.6H188.7ZM191.2 165.7H192.1L192.6 199.4H190.6ZM192 168.9H193.1L193.7 199.3H191.5ZM195.1 162.8H196.2L196.9 199.1H194.5ZM197.1 153H198.3L199 199.1H196.5ZM199.3 158.8H200.4L201.1 199.2H198.6ZM201.2 160.7H202.4L203.1 199.3H200.5ZM203.2 160.2H204.4L205.2 199.4H202.4ZM204.6 154.5H205.4L206.2 199.4H203.8ZM205.8 157.9H207L207.8 199.4H205ZM208.1 160.3H209.2L210 199.5H207.3ZM209.4 153.7H210.5L211.3 199.6H208.6ZM210.7 150.3H211.5L212.3 199.6H209.9ZM213.4 159.4H214.5L215.3 199.7H212.6ZM216.8 152.1H217.8L218.6 199.9H216ZM218.4 155.7H219.2L220 199.9H217.6ZM221.4 153.9H222.4L223.2 200.1H220.6ZM223.3 155.1H224.1L224.9 200.1H222.5ZM224.1 170.5H224.9L225.7 200.2H223.3ZM227.2 153.5H228.1L228.9 200.3H226.4ZM228.2 158.2H229.4L230.2 200.4H227.4ZM230.1 152.2H231.2L232 200.5H229.3ZM233.3 155.5H234.2L235 200.6H232.5ZM236.5 150.2H237.4L238.2 200.7H235.7ZM239.2 153.5H240.3L241.1 200.8H238.4ZM240.4 166.3H241.3L242.1 200.9H239.6ZM241.9 164.8H243L243.8 200.9H241.1ZM245.4 152.6H246.2L247 201H244.6ZM248 162H249L249.8 201.1H247.2ZM250 163.9H251.2L252 201.2H249.2ZM252.2 156.2H253.1L253.9 201.2H251.4ZM253.9 159.6H255L255.8 201.3H253.1ZM256.4 166.5H257.4L258.2 201.4H255.6ZM258.8 158.6H259.8L260.6 201.6H258ZM260 155.1H261L261.8 201.7H259.2ZM262.6 165.1H263.6L264.4 201.8H261.8ZM266.2 173.9H267.1L267.9 202.1H265.4ZM269.5 168.4H270.5L271.3 202.3H268.7ZM270.7 170.6H271.7L272.5 202.5H269.9ZM271.8 165.6H272.8L273.6 202.7H271ZM275.2 181.3H276.2L277 203.6H274.4ZM278.4 183.4H279.6L280.4 204.4H277.6Z" fill="#000"/>
<path d="M384 220.4 L384.6 219 L384.9 205 L385.3 189.7 L385.7 173.1 L386 164.5 L386.4 157.3 L386.7 153.2 L387.1 152.5 L387.4 149.9 L387.8 151.5 L388.1 153.8 L388.5 154.7 L388.8 156.1 L389.2 155.6 L389.5 157.2 L389.9 157.6 L390.2 159 L390.6 159.8 L390.9 158.4 L391.3 158.2 L391.6 157.7 L392 158.5 L392.3 158.1 L392.7 156.8 L393 158 L393.4 157.2 L393.7 158.5 L394.1 158.1 L394.4 158.3 L394.8 160.2 L395.1 159.4 L395.5 159.7 L395.8 161.5 L396.2 161.5 L396.5 160.6 L396.9 162 L397.2 189 L390 188.6 L388 190.6 L386.6 192.4 L386 195 L385.7 205 L385.3 221.8 L384.3 222.8Z" fill="#000" stroke="#000" stroke-width="0.4"/>
<text transform="translate(11.7,187) rotate(-90) scale(0.917,1)" font-size="14.93" text-anchor="middle" stroke="#000">V<tspan font-size="9.3" dy="4.5">m</tspan><tspan dy="-4.5"> (mV)</tspan></text>
<line x1="374.1" y1="227.6" x2="400.3" y2="227.6" stroke="#000" stroke-width="1.6"/>
<line x1="374.7" y1="225.4" x2="374.7" y2="228.4" stroke="#000" stroke-width="1.3"/>
<line x1="399.7" y1="225.4" x2="399.7" y2="228.4" stroke="#000" stroke-width="1.3"/>
<text transform="translate(370.7,240.7) scale(0.917,1)" font-size="14.93" text-anchor="start" fill="#000" stroke="#000">2 min</text>
<text transform="translate(422.7,12.3) scale(0.917,1)" font-size="18.09" text-anchor="start" fill="#000" stroke="#000">B</text>
<line x1="478.9" y1="49.8" x2="478.9" y2="179.5" stroke="#000" stroke-width="1.6"/>
<line x1="474.6" y1="178.8" x2="547.6" y2="178.8" stroke="#000" stroke-width="1.6"/>
<line x1="474.6" y1="178.8" x2="478.9" y2="178.8" stroke="#000" stroke-width="1.5"/>
<text transform="translate(467.6,184.1) scale(0.917,1)" font-size="14.93" text-anchor="end" fill="#000" stroke="#000">0</text>
<line x1="474.6" y1="153.2" x2="478.9" y2="153.2" stroke="#000" stroke-width="1.5"/>
<text transform="translate(467.6,158.5) scale(0.917,1)" font-size="14.93" text-anchor="end" fill="#000" stroke="#000">25</text>
<line x1="474.6" y1="127.6" x2="478.9" y2="127.6" stroke="#000" stroke-width="1.5"/>
<text transform="translate(467.6,132.9) scale(0.917,1)" font-size="14.93" text-anchor="end" fill="#000" stroke="#000">50</text>
<line x1="474.6" y1="102.1" x2="478.9" y2="102.1" stroke="#000" stroke-width="1.5"/>
<text transform="translate(467.6,107.4) scale(0.917,1)" font-size="14.93" text-anchor="end" fill="#000" stroke="#000">75</text>
<line x1="474.6" y1="76.5" x2="478.9" y2="76.5" stroke="#000" stroke-width="1.5"/>
<text transform="translate(467.6,81.8) scale(0.917,1)" font-size="14.93" text-anchor="end" fill="#000" stroke="#000">100</text>
<line x1="474.6" y1="50.9" x2="478.9" y2="50.9" stroke="#000" stroke-width="1.5"/>
<text transform="translate(467.6,56.2) scale(0.917,1)" font-size="14.93" text-anchor="end" fill="#000" stroke="#000">125</text>
<text transform="translate(437,115.2) rotate(-90) scale(0.917,1)" font-size="14.93" text-anchor="middle" stroke="#000">Spikes/min</text>
<rect x="484.1" y="68" width="22.6" height="110.8" fill="#aeaeae" stroke="#000" stroke-width="1.4"/>
<line x1="495.5" y1="57.8" x2="495.5" y2="68" stroke="#000" stroke-width="1.4"/>
<line x1="491.9" y1="57.8" x2="499.1" y2="57.8" stroke="#000" stroke-width="1.4"/>
<rect x="516.4" y="108.2" width="24.4" height="71.3" fill="#000"/>
<line x1="528.8" y1="101" x2="528.8" y2="109" stroke="#000" stroke-width="1.4"/>
<line x1="525.2" y1="101" x2="532.4" y2="101" stroke="#000" stroke-width="1.4"/>
<text transform="translate(495.3,172.5) scale(0.917,1)" font-size="14.93" text-anchor="middle" fill="#111" stroke="#111">16</text>
<text transform="translate(528.7,172.5) scale(0.917,1)" font-size="14.93" text-anchor="middle" fill="#fff" stroke="#fff">16</text>
<path d="M495.3 52.8 V48 H528 V52.8" fill="none" stroke="#000" stroke-width="1.5"/>
<text transform="translate(511.7,49.9) scale(1,0.83)" font-size="20" text-anchor="middle">***</text>
<text transform="translate(473.9,200.6) scale(0.917,1)" font-size="14.93" text-anchor="end" fill="#000" stroke="#000">G10</text>
<text transform="translate(494.8,200.3) scale(0.917,1)" font-size="14.93" text-anchor="middle" fill="#000" stroke="#000">+</text>
<text transform="translate(527.5,200.3) scale(0.917,1)" font-size="14.93" text-anchor="middle" fill="#000" stroke="#000">+</text>
<text transform="translate(474.5,216.9) scale(0.917,1)" font-size="14.93" text-anchor="end" fill="#000" stroke="#000">T09 (µM)</text>
<text transform="translate(494.9,216.4) scale(0.917,1)" font-size="14.93" text-anchor="middle" fill="#000" stroke="#000">-</text>
<text transform="translate(527.8,216.9) scale(0.917,1)" font-size="14.93" text-anchor="middle" fill="#000" stroke="#000">1</text>
<text transform="translate(553.2,12.3) scale(0.917,1)" font-size="18.09" text-anchor="start" fill="#000" stroke="#000">D</text>
<line x1="616.6" y1="49.8" x2="616.6" y2="179.1" stroke="#000" stroke-width="1.6"/>
<line x1="612.3" y1="178.4" x2="684.2" y2="178.4" stroke="#000" stroke-width="1.6"/>
<line x1="612.3" y1="178.4" x2="616.6" y2="178.4" stroke="#000" stroke-width="1.5"/>
<text transform="translate(604.9,183.7) scale(0.917,1)" font-size="14.93" text-anchor="end" fill="#000" stroke="#000">0</text>
<line x1="612.3" y1="152.8" x2="616.6" y2="152.8" stroke="#000" stroke-width="1.5"/>
<text transform="translate(604.9,158.1) scale(0.917,1)" font-size="14.93" text-anchor="end" fill="#000" stroke="#000">25</text>
<line x1="612.3" y1="127.2" x2="616.6" y2="127.2" stroke="#000" stroke-width="1.5"/>
<text transform="translate(604.9,132.5) scale(0.917,1)" font-size="14.93" text-anchor="end" fill="#000" stroke="#000">50</text>
<line x1="612.3" y1="101.7" x2="616.6" y2="101.7" stroke="#000" stroke-width="1.5"/>
<text transform="translate(604.9,107) scale(0.917,1)" font-size="14.93" text-anchor="end" fill="#000" stroke="#000">75</text>
<line x1="612.3" y1="76.1" x2="616.6" y2="76.1" stroke="#000" stroke-width="1.5"/>
<text transform="translate(604.9,81.4) scale(0.917,1)" font-size="14.93" text-anchor="end" fill="#000" stroke="#000">100</text>
<line x1="612.3" y1="50.5" x2="616.6" y2="50.5" stroke="#000" stroke-width="1.5"/>
<text transform="translate(604.9,55.8) scale(0.917,1)" font-size="14.93" text-anchor="end" fill="#000" stroke="#000">125</text>
<text transform="translate(574.4,115.2) rotate(-90) scale(0.917,1)" font-size="14.93" text-anchor="middle" stroke="#000">Spikes/min</text>
<rect x="621.8" y="83.2" width="23" height="95.2" fill="#aeaeae" stroke="#000" stroke-width="1.3"/>
<line x1="633.4" y1="75.6" x2="633.4" y2="83" stroke="#000" stroke-width="1.4"/>
<line x1="629.8" y1="75.6" x2="637" y2="75.6" stroke="#000" stroke-width="1.4"/>
<rect x="654" y="175.8" width="24.4" height="3.3" fill="#000"/>
<line x1="665.8" y1="173.4" x2="665.8" y2="176" stroke="#000" stroke-width="1.4"/>
<line x1="662.2" y1="173.4" x2="669.4" y2="173.4" stroke="#000" stroke-width="1.4"/>
<text transform="translate(632.8,171.6) scale(0.917,1)" font-size="14.93" text-anchor="middle" fill="#111" stroke="#111">7</text>
<text transform="translate(665.8,171.6) scale(0.917,1)" font-size="14.93" text-anchor="middle" fill="#000" stroke="#000">7</text>
<path d="M632.8 51.2 V46.6 H666 V51.2" fill="none" stroke="#000" stroke-width="1.5"/>
<text transform="translate(650.3,49.1) scale(1,0.83)" font-size="20" text-anchor="middle">***</text>
<text transform="translate(611.8,203.4) scale(0.917,1)" font-size="14.93" text-anchor="end" fill="#000" stroke="#000">G10</text>
<text transform="translate(631.6,203.2) scale(0.917,1)" font-size="14.93" text-anchor="middle" fill="#000" stroke="#000">+</text>
<text transform="translate(664.4,203.2) scale(0.917,1)" font-size="14.93" text-anchor="middle" fill="#000" stroke="#000">+</text>
<text transform="translate(611.8,220) scale(0.917,1)" font-size="14.93" text-anchor="end" fill="#000" stroke="#000">GW (µM)</text>
<text transform="translate(631.6,219.6) scale(0.917,1)" font-size="14.93" text-anchor="middle" fill="#000" stroke="#000">-</text>
<text transform="translate(664.4,220) scale(0.917,1)" font-size="14.93" text-anchor="middle" fill="#000" stroke="#000">1</text>
<text transform="translate(71.7,276.6) scale(0.917,1)" font-size="18.09" text-anchor="start" fill="#000" stroke="#000">E</text>
<line x1="124.8" y1="284.7" x2="124.8" y2="414.7" stroke="#000" stroke-width="1.6"/>
<line x1="119.2" y1="414" x2="255.6" y2="414" stroke="#000" stroke-width="1.6"/>
<line x1="119.2" y1="414" x2="124.8" y2="414" stroke="#000" stroke-width="1.5"/>
<text transform="translate(113.7,419.3) scale(0.917,1)" font-size="14.93" text-anchor="end" fill="#000" stroke="#000">0</text>
<line x1="119.2" y1="381.9" x2="124.8" y2="381.9" stroke="#000" stroke-width="1.5"/>
<text transform="translate(113.7,387.2) scale(0.917,1)" font-size="14.93" text-anchor="end" fill="#000" stroke="#000">2</text>
<line x1="119.2" y1="349.8" x2="124.8" y2="349.8" stroke="#000" stroke-width="1.5"/>
<text transform="translate(113.7,355.1) scale(0.917,1)" font-size="14.93" text-anchor="end" fill="#000" stroke="#000">4</text>
<line x1="119.2" y1="317.6" x2="124.8" y2="317.6" stroke="#000" stroke-width="1.5"/>
<text transform="translate(113.7,322.9) scale(0.917,1)" font-size="14.93" text-anchor="end" fill="#000" stroke="#000">6</text>
<line x1="119.2" y1="285.5" x2="124.8" y2="285.5" stroke="#000" stroke-width="1.5"/>
<text transform="translate(113.7,290.8) scale(0.917,1)" font-size="14.93" text-anchor="end" fill="#000" stroke="#000">8</text>
<text transform="translate(81.6,348.5) rotate(-90) scale(0.917,1)" font-size="14.93" text-anchor="middle" stroke="#000">Insulin secretion</text>
<text transform="translate(97.3,348.2) rotate(-90) scale(0.917,1)" font-size="14.93" text-anchor="middle" stroke="#000">(ng/(h*islet))</text>
<rect x="129.4" y="411.6" width="23.4" height="2.4" fill="#000"/>
<line x1="141" y1="410.9" x2="141" y2="412" stroke="#000" stroke-width="1.0"/>
<line x1="138.4" y1="410.9" x2="143.6" y2="410.9" stroke="#000" stroke-width="1.0"/>
<rect x="163.4" y="320" width="22.8" height="94" fill="#aeaeae" stroke="#000" stroke-width="1.3"/>
<line x1="175" y1="306.6" x2="175" y2="320" stroke="#000" stroke-width="1.4"/>
<line x1="171.4" y1="306.6" x2="178.6" y2="306.6" stroke="#000" stroke-width="1.4"/>
<rect x="195.6" y="346.2" width="24.2" height="68.5" fill="#000"/>
<line x1="207.7" y1="331.6" x2="207.7" y2="347" stroke="#000" stroke-width="1.4"/>
<line x1="204.1" y1="331.6" x2="211.3" y2="331.6" stroke="#000" stroke-width="1.4"/>
<rect x="229.2" y="353.8" width="24" height="60.9" fill="#000"/>
<line x1="241" y1="342.6" x2="241" y2="355" stroke="#000" stroke-width="1.4"/>
<line x1="237.4" y1="342.6" x2="244.6" y2="342.6" stroke="#000" stroke-width="1.4"/>
<text transform="translate(141,406.8) scale(0.917,1)" font-size="14.93" text-anchor="middle" fill="#000" stroke="#000">6</text>
<text transform="translate(174.8,406.8) scale(0.917,1)" font-size="14.93" text-anchor="middle" fill="#111" stroke="#111">6</text>
<text transform="translate(207.6,406.8) scale(0.917,1)" font-size="14.93" text-anchor="middle" fill="#fff" stroke="#fff">6</text>
<text transform="translate(241.2,406.8) scale(0.917,1)" font-size="14.93" text-anchor="middle" fill="#fff" stroke="#fff">6</text>
<path d="M142.6 300.2 V295.8 H207.7 V300.2" fill="none" stroke="#000" stroke-width="1.5"/>
<line x1="175" y1="295.8" x2="175" y2="300.2" stroke="#000" stroke-width="1.5"/>
<path d="M175 281.2 V276.5 H241.3 V281.2" fill="none" stroke="#000" stroke-width="1.5"/>
<text transform="translate(158.6,296.3) scale(1,0.83)" font-size="20" text-anchor="middle">***</text>
<text transform="translate(191.4,296.3) scale(1,0.83)" font-size="20" text-anchor="middle">*</text>
<text transform="translate(207.9,276.8) scale(1,0.83)" font-size="20" text-anchor="middle">*</text>
<text transform="translate(121.6,436.1) scale(0.917,1)" font-size="14.93" text-anchor="end" fill="#000" stroke="#000">G3</text>
<text transform="translate(141,435.8) scale(0.917,1)" font-size="14.93" text-anchor="middle" fill="#000" stroke="#000">+</text>
<text transform="translate(174.8,435.8) scale(0.917,1)" font-size="14.93" text-anchor="middle" fill="#000" stroke="#000">-</text>
<text transform="translate(207.6,435.8) scale(0.917,1)" font-size="14.93" text-anchor="middle" fill="#000" stroke="#000">-</text>
<text transform="translate(241.2,435.8) scale(0.917,1)" font-size="14.93" text-anchor="middle" fill="#000" stroke="#000">-</text>
<text transform="translate(121.6,453.1) scale(0.917,1)" font-size="14.93" text-anchor="end" fill="#000" stroke="#000">G15</text>
<text transform="translate(141,452.8) scale(0.917,1)" font-size="14.93" text-anchor="middle" fill="#000" stroke="#000">-</text>
<text transform="translate(174.8,452.8) scale(0.917,1)" font-size="14.93" text-anchor="middle" fill="#000" stroke="#000">+</text>
<text transform="translate(207.6,452.8) scale(0.917,1)" font-size="14.93" text-anchor="middle" fill="#000" stroke="#000">+</text>
<text transform="translate(241.2,452.8) scale(0.917,1)" font-size="14.93" text-anchor="middle" fill="#000" stroke="#000">+</text>
<text transform="translate(121.6,469.2) scale(0.917,1)" font-size="14.93" text-anchor="end" fill="#000" stroke="#000">T09 (µM)</text>
<text transform="translate(141,468.9) scale(0.917,1)" font-size="14.93" text-anchor="middle" fill="#000" stroke="#000">-</text>
<text transform="translate(174.8,468.9) scale(0.917,1)" font-size="14.93" text-anchor="middle" fill="#000" stroke="#000">-</text>
<text transform="translate(207.6,469.2) scale(0.917,1)" font-size="14.93" text-anchor="middle" fill="#000" stroke="#000">1</text>
<text transform="translate(241.2,469.2) scale(0.917,1)" font-size="14.93" text-anchor="middle" fill="#000" stroke="#000">3</text>
<text transform="translate(363.9,276.9) scale(0.917,1)" font-size="18.09" text-anchor="start" fill="#000" stroke="#000">F</text>
<line x1="422.3" y1="284.6" x2="422.3" y2="414.6" stroke="#000" stroke-width="1.6"/>
<line x1="416.8" y1="413.9" x2="555.8" y2="413.9" stroke="#000" stroke-width="1.6"/>
<line x1="416.8" y1="413.9" x2="422.3" y2="413.9" stroke="#000" stroke-width="1.5"/>
<text transform="translate(410.7,419.2) scale(0.917,1)" font-size="14.93" text-anchor="end" fill="#000" stroke="#000">0</text>
<line x1="416.8" y1="371.1" x2="422.3" y2="371.1" stroke="#000" stroke-width="1.5"/>
<text transform="translate(410.7,376.4) scale(0.917,1)" font-size="14.93" text-anchor="end" fill="#000" stroke="#000">2</text>
<line x1="416.8" y1="328.2" x2="422.3" y2="328.2" stroke="#000" stroke-width="1.5"/>
<text transform="translate(410.7,333.5) scale(0.917,1)" font-size="14.93" text-anchor="end" fill="#000" stroke="#000">4</text>
<line x1="416.8" y1="285.4" x2="422.3" y2="285.4" stroke="#000" stroke-width="1.5"/>
<text transform="translate(410.7,290.7) scale(0.917,1)" font-size="14.93" text-anchor="end" fill="#000" stroke="#000">6</text>
<text transform="translate(377.6,348.5) rotate(-90) scale(0.917,1)" font-size="14.93" text-anchor="middle" stroke="#000">Insulin secretion</text>
<text transform="translate(393.2,348.2) rotate(-90) scale(0.917,1)" font-size="14.93" text-anchor="middle" stroke="#000">(ng/(h*islet))</text>
<rect x="426.4" y="411.5" width="23.4" height="2.4" fill="#000"/>
<rect x="460" y="324.2" width="22.8" height="89.7" fill="#aeaeae" stroke="#000" stroke-width="1.3"/>
<line x1="471.3" y1="313" x2="471.3" y2="324" stroke="#000" stroke-width="1.4"/>
<line x1="467.7" y1="313" x2="474.9" y2="313" stroke="#000" stroke-width="1.4"/>
<rect x="492.8" y="360" width="23.6" height="54.6" fill="#000"/>
<line x1="504.2" y1="349.2" x2="504.2" y2="361" stroke="#000" stroke-width="1.4"/>
<line x1="500.6" y1="349.2" x2="507.8" y2="349.2" stroke="#000" stroke-width="1.4"/>
<rect x="525.8" y="360" width="24" height="54.6" fill="#000"/>
<line x1="537.9" y1="350.8" x2="537.9" y2="361" stroke="#000" stroke-width="1.4"/>
<line x1="534.3" y1="350.8" x2="541.5" y2="350.8" stroke="#000" stroke-width="1.4"/>
<text transform="translate(438,407.2) scale(0.917,1)" font-size="14.93" text-anchor="middle" fill="#000" stroke="#000">8</text>
<text transform="translate(470.8,407.2) scale(0.917,1)" font-size="14.93" text-anchor="middle" fill="#111" stroke="#111">8</text>
<text transform="translate(504.4,407.2) scale(0.917,1)" font-size="14.93" text-anchor="middle" fill="#fff" stroke="#fff">8</text>
<text transform="translate(538,407.2) scale(0.917,1)" font-size="14.93" text-anchor="middle" fill="#fff" stroke="#fff">8</text>
<path d="M438.7 309.8 V305.2 H503.8 V309.8" fill="none" stroke="#000" stroke-width="1.5"/>
<line x1="471.3" y1="305.2" x2="471.3" y2="309.8" stroke="#000" stroke-width="1.5"/>
<path d="M471.3 294 V289.6 H537.9 V294" fill="none" stroke="#000" stroke-width="1.5"/>
<text transform="translate(455.2,305.8) scale(1,0.83)" font-size="20" text-anchor="middle">***</text>
<text transform="translate(487.4,305.8) scale(1,0.83)" font-size="20" text-anchor="middle">**</text>
<text transform="translate(504.3,290.1) scale(1,0.83)" font-size="20" text-anchor="middle">***</text>
<text transform="translate(418.8,435.9) scale(0.917,1)" font-size="14.93" text-anchor="end" fill="#000" stroke="#000">G3</text>
<text transform="translate(438,435.6) scale(0.917,1)" font-size="14.93" text-anchor="middle" fill="#000" stroke="#000">+</text>
<text transform="translate(470.8,435.6) scale(0.917,1)" font-size="14.93" text-anchor="middle" fill="#000" stroke="#000">-</text>
<text transform="translate(504.4,435.6) scale(0.917,1)" font-size="14.93" text-anchor="middle" fill="#000" stroke="#000">-</text>
<text transform="translate(538,435.6) scale(0.917,1)" font-size="14.93" text-anchor="middle" fill="#000" stroke="#000">-</text>
<text transform="translate(418.8,452.3) scale(0.917,1)" font-size="14.93" text-anchor="end" fill="#000" stroke="#000">G15</text>
<text transform="translate(438,452) scale(0.917,1)" font-size="14.93" text-anchor="middle" fill="#000" stroke="#000">-</text>
<text transform="translate(470.8,452) scale(0.917,1)" font-size="14.93" text-anchor="middle" fill="#000" stroke="#000">+</text>
<text transform="translate(504.4,452) scale(0.917,1)" font-size="14.93" text-anchor="middle" fill="#000" stroke="#000">+</text>
<text transform="translate(538,452) scale(0.917,1)" font-size="14.93" text-anchor="middle" fill="#000" stroke="#000">+</text>
<text transform="translate(418.8,469) scale(0.917,1)" font-size="14.93" text-anchor="end" fill="#000" stroke="#000">GW (µM)</text>
<text transform="translate(438,468.7) scale(0.917,1)" font-size="14.93" text-anchor="middle" fill="#000" stroke="#000">-</text>
<text transform="translate(470.8,468.7) scale(0.917,1)" font-size="14.93" text-anchor="middle" fill="#000" stroke="#000">-</text>
<text transform="translate(504.4,469) scale(0.917,1)" font-size="14.93" text-anchor="middle" fill="#000" stroke="#000">0.3</text>
<text transform="translate(538,469) scale(0.917,1)" font-size="14.93" text-anchor="middle" fill="#000" stroke="#000">1</text>
</svg></body></html>
